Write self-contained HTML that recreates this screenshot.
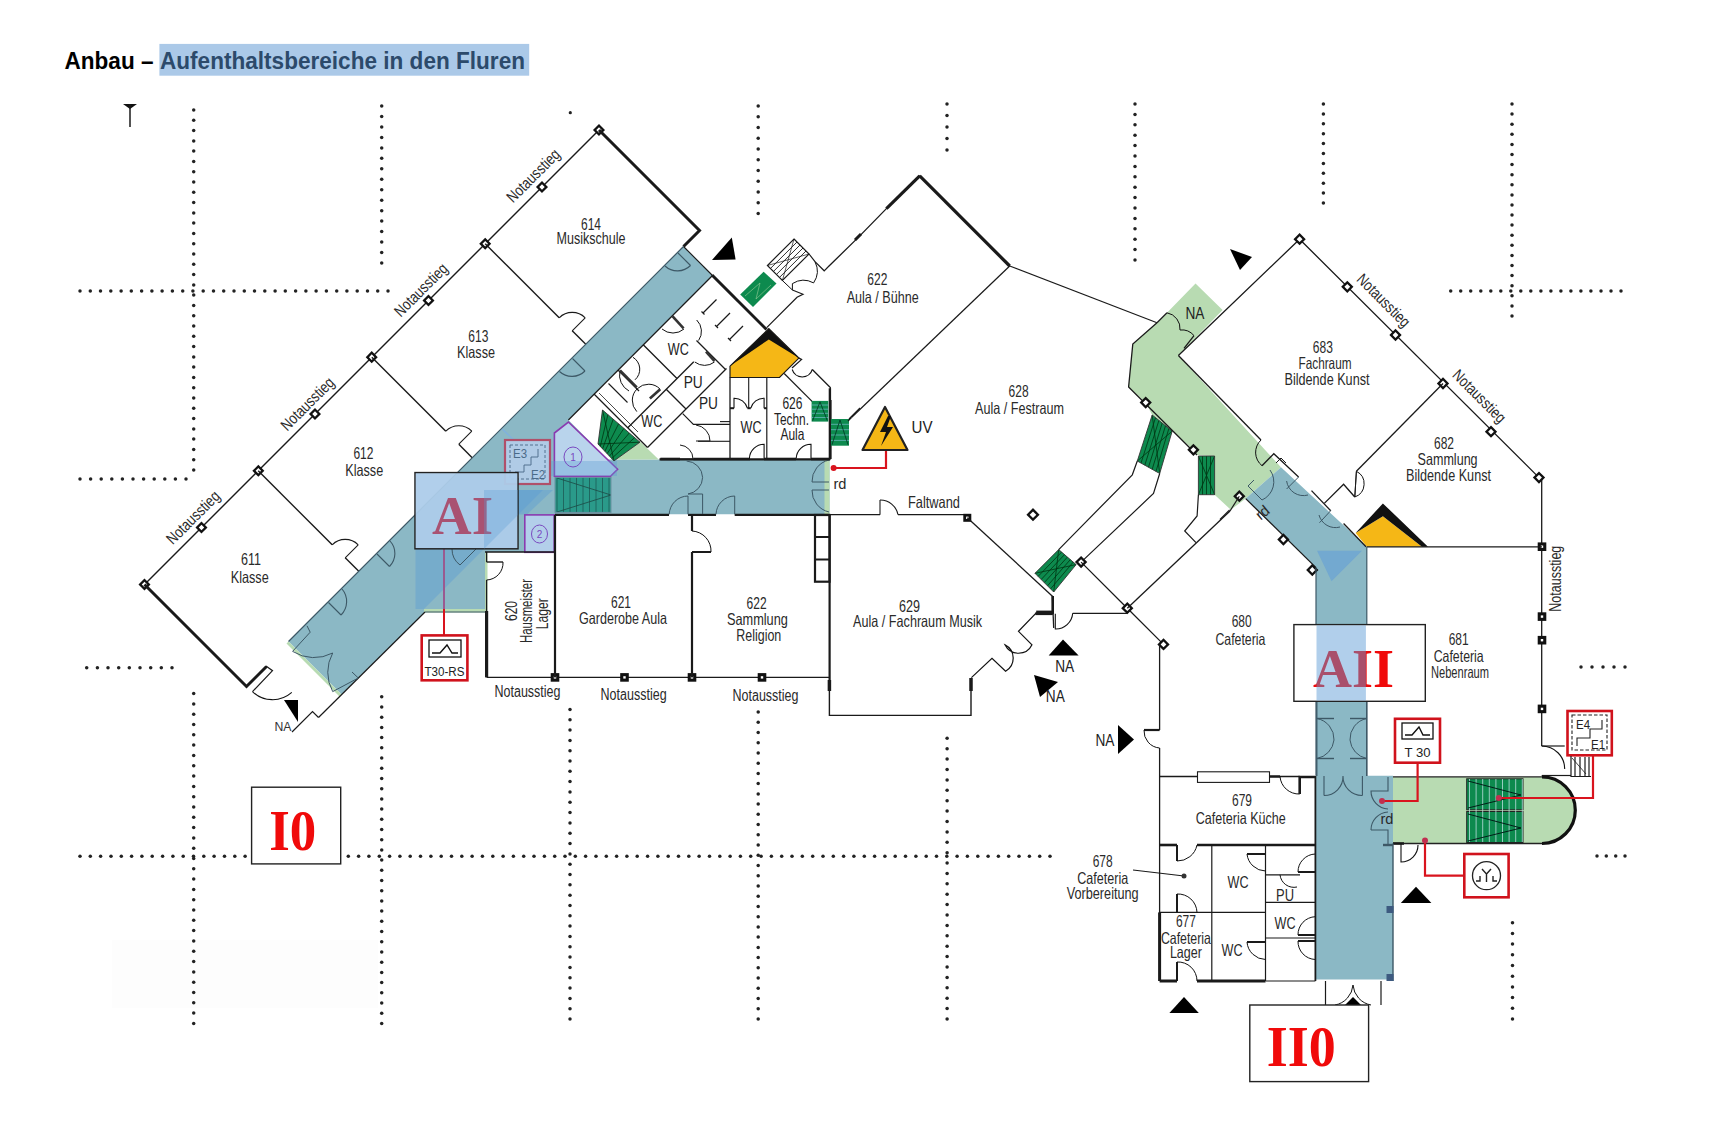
<!DOCTYPE html><html><head><meta charset="utf-8"><style>html,body{margin:0;padding:0;background:#fff;width:1727px;height:1122px;overflow:hidden}svg{display:block}</style></head><body><svg width="1727" height="1122" viewBox="0 0 1727 1122">
<rect width="1727" height="1122" fill="#fff"/>
<rect x="159.4" y="43.9" width="369.8" height="31.8" fill="#abc9e8" stroke="none" stroke-width="1" />
<text x="64.5" y="68.5" font-family="Liberation Sans" font-size="23" font-weight="bold" text-anchor="start" fill="#000" textLength="89" lengthAdjust="spacingAndGlyphs" >Anbau –</text>
<text x="160.0" y="68.5" font-family="Liberation Sans" font-size="23" font-weight="bold" text-anchor="start" fill="#2c4a6b" textLength="365" lengthAdjust="spacingAndGlyphs" >Aufenthaltsbereiche in den Fluren</text>
<rect x="112.0" y="940.0" width="266.0" height="68.0" fill="#fdfdfd" stroke="none" stroke-width="1" />
<circle cx="193.7" cy="110.0" r="1.75" fill="#222"/>
<circle cx="193.7" cy="120.3" r="1.75" fill="#222"/>
<circle cx="193.7" cy="130.6" r="1.75" fill="#222"/>
<circle cx="193.7" cy="140.9" r="1.75" fill="#222"/>
<circle cx="193.7" cy="151.1" r="1.75" fill="#222"/>
<circle cx="193.7" cy="161.4" r="1.75" fill="#222"/>
<circle cx="193.7" cy="171.7" r="1.75" fill="#222"/>
<circle cx="193.7" cy="182.0" r="1.75" fill="#222"/>
<circle cx="193.7" cy="192.3" r="1.75" fill="#222"/>
<circle cx="193.7" cy="202.6" r="1.75" fill="#222"/>
<circle cx="193.7" cy="212.9" r="1.75" fill="#222"/>
<circle cx="193.7" cy="223.1" r="1.75" fill="#222"/>
<circle cx="193.7" cy="233.4" r="1.75" fill="#222"/>
<circle cx="193.7" cy="243.7" r="1.75" fill="#222"/>
<circle cx="193.7" cy="254.0" r="1.75" fill="#222"/>
<circle cx="193.7" cy="264.3" r="1.75" fill="#222"/>
<circle cx="193.7" cy="274.6" r="1.75" fill="#222"/>
<circle cx="193.7" cy="284.9" r="1.75" fill="#222"/>
<circle cx="193.7" cy="295.1" r="1.75" fill="#222"/>
<circle cx="193.7" cy="305.4" r="1.75" fill="#222"/>
<circle cx="193.7" cy="315.7" r="1.75" fill="#222"/>
<circle cx="193.7" cy="326.0" r="1.75" fill="#222"/>
<circle cx="193.7" cy="336.3" r="1.75" fill="#222"/>
<circle cx="193.7" cy="346.6" r="1.75" fill="#222"/>
<circle cx="193.7" cy="356.9" r="1.75" fill="#222"/>
<circle cx="193.7" cy="367.1" r="1.75" fill="#222"/>
<circle cx="193.7" cy="377.4" r="1.75" fill="#222"/>
<circle cx="193.7" cy="387.7" r="1.75" fill="#222"/>
<circle cx="193.7" cy="398.0" r="1.75" fill="#222"/>
<circle cx="193.7" cy="408.3" r="1.75" fill="#222"/>
<circle cx="193.7" cy="418.6" r="1.75" fill="#222"/>
<circle cx="193.7" cy="428.9" r="1.75" fill="#222"/>
<circle cx="193.7" cy="439.1" r="1.75" fill="#222"/>
<circle cx="193.7" cy="449.4" r="1.75" fill="#222"/>
<circle cx="193.7" cy="459.7" r="1.75" fill="#222"/>
<circle cx="193.7" cy="470.0" r="1.75" fill="#222"/>
<circle cx="381.7" cy="106.0" r="1.75" fill="#222"/>
<circle cx="381.7" cy="116.5" r="1.75" fill="#222"/>
<circle cx="381.7" cy="126.9" r="1.75" fill="#222"/>
<circle cx="381.7" cy="137.4" r="1.75" fill="#222"/>
<circle cx="381.7" cy="147.9" r="1.75" fill="#222"/>
<circle cx="381.7" cy="158.3" r="1.75" fill="#222"/>
<circle cx="381.7" cy="168.8" r="1.75" fill="#222"/>
<circle cx="381.7" cy="179.3" r="1.75" fill="#222"/>
<circle cx="381.7" cy="189.7" r="1.75" fill="#222"/>
<circle cx="381.7" cy="200.2" r="1.75" fill="#222"/>
<circle cx="381.7" cy="210.7" r="1.75" fill="#222"/>
<circle cx="381.7" cy="221.1" r="1.75" fill="#222"/>
<circle cx="381.7" cy="231.6" r="1.75" fill="#222"/>
<circle cx="381.7" cy="242.1" r="1.75" fill="#222"/>
<circle cx="381.7" cy="252.5" r="1.75" fill="#222"/>
<circle cx="381.7" cy="263.0" r="1.75" fill="#222"/>
<circle cx="80.0" cy="291.0" r="1.75" fill="#222"/>
<circle cx="90.3" cy="291.0" r="1.75" fill="#222"/>
<circle cx="100.5" cy="291.0" r="1.75" fill="#222"/>
<circle cx="110.8" cy="291.0" r="1.75" fill="#222"/>
<circle cx="121.1" cy="291.0" r="1.75" fill="#222"/>
<circle cx="131.3" cy="291.0" r="1.75" fill="#222"/>
<circle cx="141.6" cy="291.0" r="1.75" fill="#222"/>
<circle cx="151.9" cy="291.0" r="1.75" fill="#222"/>
<circle cx="162.1" cy="291.0" r="1.75" fill="#222"/>
<circle cx="172.4" cy="291.0" r="1.75" fill="#222"/>
<circle cx="182.7" cy="291.0" r="1.75" fill="#222"/>
<circle cx="192.9" cy="291.0" r="1.75" fill="#222"/>
<circle cx="203.2" cy="291.0" r="1.75" fill="#222"/>
<circle cx="213.5" cy="291.0" r="1.75" fill="#222"/>
<circle cx="223.7" cy="291.0" r="1.75" fill="#222"/>
<circle cx="234.0" cy="291.0" r="1.75" fill="#222"/>
<circle cx="244.3" cy="291.0" r="1.75" fill="#222"/>
<circle cx="254.5" cy="291.0" r="1.75" fill="#222"/>
<circle cx="264.8" cy="291.0" r="1.75" fill="#222"/>
<circle cx="275.1" cy="291.0" r="1.75" fill="#222"/>
<circle cx="285.3" cy="291.0" r="1.75" fill="#222"/>
<circle cx="295.6" cy="291.0" r="1.75" fill="#222"/>
<circle cx="305.9" cy="291.0" r="1.75" fill="#222"/>
<circle cx="316.1" cy="291.0" r="1.75" fill="#222"/>
<circle cx="326.4" cy="291.0" r="1.75" fill="#222"/>
<circle cx="336.7" cy="291.0" r="1.75" fill="#222"/>
<circle cx="346.9" cy="291.0" r="1.75" fill="#222"/>
<circle cx="357.2" cy="291.0" r="1.75" fill="#222"/>
<circle cx="367.5" cy="291.0" r="1.75" fill="#222"/>
<circle cx="377.7" cy="291.0" r="1.75" fill="#222"/>
<circle cx="388.0" cy="291.0" r="1.75" fill="#222"/>
<circle cx="80.0" cy="479.0" r="1.75" fill="#222"/>
<circle cx="90.6" cy="479.0" r="1.75" fill="#222"/>
<circle cx="101.2" cy="479.0" r="1.75" fill="#222"/>
<circle cx="111.8" cy="479.0" r="1.75" fill="#222"/>
<circle cx="122.4" cy="479.0" r="1.75" fill="#222"/>
<circle cx="133.0" cy="479.0" r="1.75" fill="#222"/>
<circle cx="143.6" cy="479.0" r="1.75" fill="#222"/>
<circle cx="154.2" cy="479.0" r="1.75" fill="#222"/>
<circle cx="164.8" cy="479.0" r="1.75" fill="#222"/>
<circle cx="175.4" cy="479.0" r="1.75" fill="#222"/>
<circle cx="186.0" cy="479.0" r="1.75" fill="#222"/>
<circle cx="570.3" cy="112.7" r="1.6" fill="#222"/>
<circle cx="758.2" cy="106.0" r="1.75" fill="#222"/>
<circle cx="758.2" cy="116.8" r="1.75" fill="#222"/>
<circle cx="758.2" cy="127.5" r="1.75" fill="#222"/>
<circle cx="758.2" cy="138.2" r="1.75" fill="#222"/>
<circle cx="758.2" cy="149.0" r="1.75" fill="#222"/>
<circle cx="758.2" cy="159.8" r="1.75" fill="#222"/>
<circle cx="758.2" cy="170.5" r="1.75" fill="#222"/>
<circle cx="758.2" cy="181.2" r="1.75" fill="#222"/>
<circle cx="758.2" cy="192.0" r="1.75" fill="#222"/>
<circle cx="758.2" cy="202.8" r="1.75" fill="#222"/>
<circle cx="758.2" cy="213.5" r="1.75" fill="#222"/>
<circle cx="947.0" cy="104.0" r="1.75" fill="#222"/>
<circle cx="947.0" cy="115.5" r="1.75" fill="#222"/>
<circle cx="947.0" cy="127.0" r="1.75" fill="#222"/>
<circle cx="947.0" cy="138.5" r="1.75" fill="#222"/>
<circle cx="947.0" cy="150.0" r="1.75" fill="#222"/>
<circle cx="1135.0" cy="104.0" r="1.75" fill="#222"/>
<circle cx="1135.0" cy="114.4" r="1.75" fill="#222"/>
<circle cx="1135.0" cy="124.8" r="1.75" fill="#222"/>
<circle cx="1135.0" cy="135.2" r="1.75" fill="#222"/>
<circle cx="1135.0" cy="145.6" r="1.75" fill="#222"/>
<circle cx="1135.0" cy="156.0" r="1.75" fill="#222"/>
<circle cx="1135.0" cy="166.4" r="1.75" fill="#222"/>
<circle cx="1135.0" cy="176.8" r="1.75" fill="#222"/>
<circle cx="1135.0" cy="187.2" r="1.75" fill="#222"/>
<circle cx="1135.0" cy="197.6" r="1.75" fill="#222"/>
<circle cx="1135.0" cy="208.0" r="1.75" fill="#222"/>
<circle cx="1135.0" cy="218.4" r="1.75" fill="#222"/>
<circle cx="1135.0" cy="228.8" r="1.75" fill="#222"/>
<circle cx="1135.0" cy="239.2" r="1.75" fill="#222"/>
<circle cx="1135.0" cy="249.6" r="1.75" fill="#222"/>
<circle cx="1135.0" cy="260.0" r="1.75" fill="#222"/>
<circle cx="1323.4" cy="104.0" r="1.75" fill="#222"/>
<circle cx="1323.4" cy="113.9" r="1.75" fill="#222"/>
<circle cx="1323.4" cy="123.8" r="1.75" fill="#222"/>
<circle cx="1323.4" cy="133.7" r="1.75" fill="#222"/>
<circle cx="1323.4" cy="143.6" r="1.75" fill="#222"/>
<circle cx="1323.4" cy="153.5" r="1.75" fill="#222"/>
<circle cx="1323.4" cy="163.4" r="1.75" fill="#222"/>
<circle cx="1323.4" cy="173.3" r="1.75" fill="#222"/>
<circle cx="1323.4" cy="183.2" r="1.75" fill="#222"/>
<circle cx="1323.4" cy="193.1" r="1.75" fill="#222"/>
<circle cx="1323.4" cy="203.0" r="1.75" fill="#222"/>
<circle cx="1512.0" cy="104.0" r="1.75" fill="#222"/>
<circle cx="1512.0" cy="114.1" r="1.75" fill="#222"/>
<circle cx="1512.0" cy="124.2" r="1.75" fill="#222"/>
<circle cx="1512.0" cy="134.3" r="1.75" fill="#222"/>
<circle cx="1512.0" cy="144.4" r="1.75" fill="#222"/>
<circle cx="1512.0" cy="154.5" r="1.75" fill="#222"/>
<circle cx="1512.0" cy="164.6" r="1.75" fill="#222"/>
<circle cx="1512.0" cy="174.7" r="1.75" fill="#222"/>
<circle cx="1512.0" cy="184.8" r="1.75" fill="#222"/>
<circle cx="1512.0" cy="194.9" r="1.75" fill="#222"/>
<circle cx="1512.0" cy="205.0" r="1.75" fill="#222"/>
<circle cx="1512.0" cy="215.0" r="1.75" fill="#222"/>
<circle cx="1512.0" cy="225.1" r="1.75" fill="#222"/>
<circle cx="1512.0" cy="235.2" r="1.75" fill="#222"/>
<circle cx="1512.0" cy="245.3" r="1.75" fill="#222"/>
<circle cx="1512.0" cy="255.4" r="1.75" fill="#222"/>
<circle cx="1512.0" cy="265.5" r="1.75" fill="#222"/>
<circle cx="1512.0" cy="275.6" r="1.75" fill="#222"/>
<circle cx="1512.0" cy="285.7" r="1.75" fill="#222"/>
<circle cx="1512.0" cy="295.8" r="1.75" fill="#222"/>
<circle cx="1512.0" cy="305.9" r="1.75" fill="#222"/>
<circle cx="1512.0" cy="316.0" r="1.75" fill="#222"/>
<circle cx="1450.7" cy="291.0" r="1.75" fill="#222"/>
<circle cx="1460.7" cy="291.0" r="1.75" fill="#222"/>
<circle cx="1470.7" cy="291.0" r="1.75" fill="#222"/>
<circle cx="1480.8" cy="291.0" r="1.75" fill="#222"/>
<circle cx="1490.8" cy="291.0" r="1.75" fill="#222"/>
<circle cx="1500.8" cy="291.0" r="1.75" fill="#222"/>
<circle cx="1510.8" cy="291.0" r="1.75" fill="#222"/>
<circle cx="1520.8" cy="291.0" r="1.75" fill="#222"/>
<circle cx="1530.8" cy="291.0" r="1.75" fill="#222"/>
<circle cx="1540.9" cy="291.0" r="1.75" fill="#222"/>
<circle cx="1550.9" cy="291.0" r="1.75" fill="#222"/>
<circle cx="1560.9" cy="291.0" r="1.75" fill="#222"/>
<circle cx="1570.9" cy="291.0" r="1.75" fill="#222"/>
<circle cx="1580.9" cy="291.0" r="1.75" fill="#222"/>
<circle cx="1590.9" cy="291.0" r="1.75" fill="#222"/>
<circle cx="1601.0" cy="291.0" r="1.75" fill="#222"/>
<circle cx="1611.0" cy="291.0" r="1.75" fill="#222"/>
<circle cx="1621.0" cy="291.0" r="1.75" fill="#222"/>
<circle cx="86.7" cy="667.8" r="1.75" fill="#222"/>
<circle cx="97.4" cy="667.8" r="1.75" fill="#222"/>
<circle cx="108.0" cy="667.8" r="1.75" fill="#222"/>
<circle cx="118.7" cy="667.8" r="1.75" fill="#222"/>
<circle cx="129.3" cy="667.8" r="1.75" fill="#222"/>
<circle cx="140.0" cy="667.8" r="1.75" fill="#222"/>
<circle cx="150.7" cy="667.8" r="1.75" fill="#222"/>
<circle cx="161.3" cy="667.8" r="1.75" fill="#222"/>
<circle cx="172.0" cy="667.8" r="1.75" fill="#222"/>
<circle cx="1581.0" cy="667.0" r="1.75" fill="#222"/>
<circle cx="1592.0" cy="667.0" r="1.75" fill="#222"/>
<circle cx="1603.0" cy="667.0" r="1.75" fill="#222"/>
<circle cx="1614.0" cy="667.0" r="1.75" fill="#222"/>
<circle cx="1625.0" cy="667.0" r="1.75" fill="#222"/>
<circle cx="80.0" cy="856.2" r="1.75" fill="#222"/>
<circle cx="90.3" cy="856.2" r="1.75" fill="#222"/>
<circle cx="100.6" cy="856.2" r="1.75" fill="#222"/>
<circle cx="111.0" cy="856.2" r="1.75" fill="#222"/>
<circle cx="121.3" cy="856.2" r="1.75" fill="#222"/>
<circle cx="131.6" cy="856.2" r="1.75" fill="#222"/>
<circle cx="141.9" cy="856.2" r="1.75" fill="#222"/>
<circle cx="152.2" cy="856.2" r="1.75" fill="#222"/>
<circle cx="162.6" cy="856.2" r="1.75" fill="#222"/>
<circle cx="172.9" cy="856.2" r="1.75" fill="#222"/>
<circle cx="183.2" cy="856.2" r="1.75" fill="#222"/>
<circle cx="193.5" cy="856.2" r="1.75" fill="#222"/>
<circle cx="203.8" cy="856.2" r="1.75" fill="#222"/>
<circle cx="214.1" cy="856.2" r="1.75" fill="#222"/>
<circle cx="224.5" cy="856.2" r="1.75" fill="#222"/>
<circle cx="234.8" cy="856.2" r="1.75" fill="#222"/>
<circle cx="245.1" cy="856.2" r="1.75" fill="#222"/>
<circle cx="255.4" cy="856.2" r="1.75" fill="#222"/>
<circle cx="265.7" cy="856.2" r="1.75" fill="#222"/>
<circle cx="276.1" cy="856.2" r="1.75" fill="#222"/>
<circle cx="286.4" cy="856.2" r="1.75" fill="#222"/>
<circle cx="296.7" cy="856.2" r="1.75" fill="#222"/>
<circle cx="307.0" cy="856.2" r="1.75" fill="#222"/>
<circle cx="317.3" cy="856.2" r="1.75" fill="#222"/>
<circle cx="327.7" cy="856.2" r="1.75" fill="#222"/>
<circle cx="338.0" cy="856.2" r="1.75" fill="#222"/>
<circle cx="348.3" cy="856.2" r="1.75" fill="#222"/>
<circle cx="358.6" cy="856.2" r="1.75" fill="#222"/>
<circle cx="368.9" cy="856.2" r="1.75" fill="#222"/>
<circle cx="379.3" cy="856.2" r="1.75" fill="#222"/>
<circle cx="389.6" cy="856.2" r="1.75" fill="#222"/>
<circle cx="399.9" cy="856.2" r="1.75" fill="#222"/>
<circle cx="410.2" cy="856.2" r="1.75" fill="#222"/>
<circle cx="420.5" cy="856.2" r="1.75" fill="#222"/>
<circle cx="430.9" cy="856.2" r="1.75" fill="#222"/>
<circle cx="441.2" cy="856.2" r="1.75" fill="#222"/>
<circle cx="451.5" cy="856.2" r="1.75" fill="#222"/>
<circle cx="461.8" cy="856.2" r="1.75" fill="#222"/>
<circle cx="472.1" cy="856.2" r="1.75" fill="#222"/>
<circle cx="482.4" cy="856.2" r="1.75" fill="#222"/>
<circle cx="492.8" cy="856.2" r="1.75" fill="#222"/>
<circle cx="503.1" cy="856.2" r="1.75" fill="#222"/>
<circle cx="513.4" cy="856.2" r="1.75" fill="#222"/>
<circle cx="523.7" cy="856.2" r="1.75" fill="#222"/>
<circle cx="534.0" cy="856.2" r="1.75" fill="#222"/>
<circle cx="544.4" cy="856.2" r="1.75" fill="#222"/>
<circle cx="554.7" cy="856.2" r="1.75" fill="#222"/>
<circle cx="565.0" cy="856.2" r="1.75" fill="#222"/>
<circle cx="575.3" cy="856.2" r="1.75" fill="#222"/>
<circle cx="585.6" cy="856.2" r="1.75" fill="#222"/>
<circle cx="596.0" cy="856.2" r="1.75" fill="#222"/>
<circle cx="606.3" cy="856.2" r="1.75" fill="#222"/>
<circle cx="616.6" cy="856.2" r="1.75" fill="#222"/>
<circle cx="626.9" cy="856.2" r="1.75" fill="#222"/>
<circle cx="637.2" cy="856.2" r="1.75" fill="#222"/>
<circle cx="647.6" cy="856.2" r="1.75" fill="#222"/>
<circle cx="657.9" cy="856.2" r="1.75" fill="#222"/>
<circle cx="668.2" cy="856.2" r="1.75" fill="#222"/>
<circle cx="678.5" cy="856.2" r="1.75" fill="#222"/>
<circle cx="688.8" cy="856.2" r="1.75" fill="#222"/>
<circle cx="699.1" cy="856.2" r="1.75" fill="#222"/>
<circle cx="709.5" cy="856.2" r="1.75" fill="#222"/>
<circle cx="719.8" cy="856.2" r="1.75" fill="#222"/>
<circle cx="730.1" cy="856.2" r="1.75" fill="#222"/>
<circle cx="740.4" cy="856.2" r="1.75" fill="#222"/>
<circle cx="750.7" cy="856.2" r="1.75" fill="#222"/>
<circle cx="761.1" cy="856.2" r="1.75" fill="#222"/>
<circle cx="771.4" cy="856.2" r="1.75" fill="#222"/>
<circle cx="781.7" cy="856.2" r="1.75" fill="#222"/>
<circle cx="792.0" cy="856.2" r="1.75" fill="#222"/>
<circle cx="802.3" cy="856.2" r="1.75" fill="#222"/>
<circle cx="812.7" cy="856.2" r="1.75" fill="#222"/>
<circle cx="823.0" cy="856.2" r="1.75" fill="#222"/>
<circle cx="833.3" cy="856.2" r="1.75" fill="#222"/>
<circle cx="843.6" cy="856.2" r="1.75" fill="#222"/>
<circle cx="853.9" cy="856.2" r="1.75" fill="#222"/>
<circle cx="864.3" cy="856.2" r="1.75" fill="#222"/>
<circle cx="874.6" cy="856.2" r="1.75" fill="#222"/>
<circle cx="884.9" cy="856.2" r="1.75" fill="#222"/>
<circle cx="895.2" cy="856.2" r="1.75" fill="#222"/>
<circle cx="905.5" cy="856.2" r="1.75" fill="#222"/>
<circle cx="915.9" cy="856.2" r="1.75" fill="#222"/>
<circle cx="926.2" cy="856.2" r="1.75" fill="#222"/>
<circle cx="936.5" cy="856.2" r="1.75" fill="#222"/>
<circle cx="946.8" cy="856.2" r="1.75" fill="#222"/>
<circle cx="957.1" cy="856.2" r="1.75" fill="#222"/>
<circle cx="967.4" cy="856.2" r="1.75" fill="#222"/>
<circle cx="977.8" cy="856.2" r="1.75" fill="#222"/>
<circle cx="988.1" cy="856.2" r="1.75" fill="#222"/>
<circle cx="998.4" cy="856.2" r="1.75" fill="#222"/>
<circle cx="1008.7" cy="856.2" r="1.75" fill="#222"/>
<circle cx="1019.0" cy="856.2" r="1.75" fill="#222"/>
<circle cx="1029.4" cy="856.2" r="1.75" fill="#222"/>
<circle cx="1039.7" cy="856.2" r="1.75" fill="#222"/>
<circle cx="1050.0" cy="856.2" r="1.75" fill="#222"/>
<circle cx="1597.0" cy="856.0" r="1.75" fill="#222"/>
<circle cx="1606.3" cy="856.0" r="1.75" fill="#222"/>
<circle cx="1615.7" cy="856.0" r="1.75" fill="#222"/>
<circle cx="1625.0" cy="856.0" r="1.75" fill="#222"/>
<circle cx="193.7" cy="693.6" r="1.75" fill="#222"/>
<circle cx="193.7" cy="703.9" r="1.75" fill="#222"/>
<circle cx="193.7" cy="714.2" r="1.75" fill="#222"/>
<circle cx="193.7" cy="724.5" r="1.75" fill="#222"/>
<circle cx="193.7" cy="734.8" r="1.75" fill="#222"/>
<circle cx="193.7" cy="745.1" r="1.75" fill="#222"/>
<circle cx="193.7" cy="755.4" r="1.75" fill="#222"/>
<circle cx="193.7" cy="765.7" r="1.75" fill="#222"/>
<circle cx="193.7" cy="776.0" r="1.75" fill="#222"/>
<circle cx="193.7" cy="786.4" r="1.75" fill="#222"/>
<circle cx="193.7" cy="796.7" r="1.75" fill="#222"/>
<circle cx="193.7" cy="807.0" r="1.75" fill="#222"/>
<circle cx="193.7" cy="817.3" r="1.75" fill="#222"/>
<circle cx="193.7" cy="827.6" r="1.75" fill="#222"/>
<circle cx="193.7" cy="837.9" r="1.75" fill="#222"/>
<circle cx="193.7" cy="848.2" r="1.75" fill="#222"/>
<circle cx="193.7" cy="858.5" r="1.75" fill="#222"/>
<circle cx="193.7" cy="868.8" r="1.75" fill="#222"/>
<circle cx="193.7" cy="879.1" r="1.75" fill="#222"/>
<circle cx="193.7" cy="889.4" r="1.75" fill="#222"/>
<circle cx="193.7" cy="899.7" r="1.75" fill="#222"/>
<circle cx="193.7" cy="910.0" r="1.75" fill="#222"/>
<circle cx="193.7" cy="920.3" r="1.75" fill="#222"/>
<circle cx="193.7" cy="930.6" r="1.75" fill="#222"/>
<circle cx="193.7" cy="941.0" r="1.75" fill="#222"/>
<circle cx="193.7" cy="951.3" r="1.75" fill="#222"/>
<circle cx="193.7" cy="961.6" r="1.75" fill="#222"/>
<circle cx="193.7" cy="971.9" r="1.75" fill="#222"/>
<circle cx="193.7" cy="982.2" r="1.75" fill="#222"/>
<circle cx="193.7" cy="992.5" r="1.75" fill="#222"/>
<circle cx="193.7" cy="1002.8" r="1.75" fill="#222"/>
<circle cx="193.7" cy="1013.1" r="1.75" fill="#222"/>
<circle cx="193.7" cy="1023.4" r="1.75" fill="#222"/>
<circle cx="381.7" cy="696.8" r="1.75" fill="#222"/>
<circle cx="381.7" cy="707.0" r="1.75" fill="#222"/>
<circle cx="381.7" cy="717.2" r="1.75" fill="#222"/>
<circle cx="381.7" cy="727.4" r="1.75" fill="#222"/>
<circle cx="381.7" cy="737.6" r="1.75" fill="#222"/>
<circle cx="381.7" cy="747.8" r="1.75" fill="#222"/>
<circle cx="381.7" cy="758.0" r="1.75" fill="#222"/>
<circle cx="381.7" cy="768.2" r="1.75" fill="#222"/>
<circle cx="381.7" cy="778.4" r="1.75" fill="#222"/>
<circle cx="381.7" cy="788.7" r="1.75" fill="#222"/>
<circle cx="381.7" cy="798.9" r="1.75" fill="#222"/>
<circle cx="381.7" cy="809.1" r="1.75" fill="#222"/>
<circle cx="381.7" cy="819.3" r="1.75" fill="#222"/>
<circle cx="381.7" cy="829.5" r="1.75" fill="#222"/>
<circle cx="381.7" cy="839.7" r="1.75" fill="#222"/>
<circle cx="381.7" cy="849.9" r="1.75" fill="#222"/>
<circle cx="381.7" cy="860.1" r="1.75" fill="#222"/>
<circle cx="381.7" cy="870.3" r="1.75" fill="#222"/>
<circle cx="381.7" cy="880.5" r="1.75" fill="#222"/>
<circle cx="381.7" cy="890.7" r="1.75" fill="#222"/>
<circle cx="381.7" cy="900.9" r="1.75" fill="#222"/>
<circle cx="381.7" cy="911.1" r="1.75" fill="#222"/>
<circle cx="381.7" cy="921.3" r="1.75" fill="#222"/>
<circle cx="381.7" cy="931.5" r="1.75" fill="#222"/>
<circle cx="381.7" cy="941.8" r="1.75" fill="#222"/>
<circle cx="381.7" cy="952.0" r="1.75" fill="#222"/>
<circle cx="381.7" cy="962.2" r="1.75" fill="#222"/>
<circle cx="381.7" cy="972.4" r="1.75" fill="#222"/>
<circle cx="381.7" cy="982.6" r="1.75" fill="#222"/>
<circle cx="381.7" cy="992.8" r="1.75" fill="#222"/>
<circle cx="381.7" cy="1003.0" r="1.75" fill="#222"/>
<circle cx="381.7" cy="1013.2" r="1.75" fill="#222"/>
<circle cx="381.7" cy="1023.4" r="1.75" fill="#222"/>
<circle cx="570.0" cy="709.4" r="1.75" fill="#222"/>
<circle cx="570.0" cy="719.7" r="1.75" fill="#222"/>
<circle cx="570.0" cy="730.0" r="1.75" fill="#222"/>
<circle cx="570.0" cy="740.4" r="1.75" fill="#222"/>
<circle cx="570.0" cy="750.7" r="1.75" fill="#222"/>
<circle cx="570.0" cy="761.0" r="1.75" fill="#222"/>
<circle cx="570.0" cy="771.3" r="1.75" fill="#222"/>
<circle cx="570.0" cy="781.6" r="1.75" fill="#222"/>
<circle cx="570.0" cy="792.0" r="1.75" fill="#222"/>
<circle cx="570.0" cy="802.3" r="1.75" fill="#222"/>
<circle cx="570.0" cy="812.6" r="1.75" fill="#222"/>
<circle cx="570.0" cy="822.9" r="1.75" fill="#222"/>
<circle cx="570.0" cy="833.2" r="1.75" fill="#222"/>
<circle cx="570.0" cy="843.6" r="1.75" fill="#222"/>
<circle cx="570.0" cy="853.9" r="1.75" fill="#222"/>
<circle cx="570.0" cy="864.2" r="1.75" fill="#222"/>
<circle cx="570.0" cy="874.5" r="1.75" fill="#222"/>
<circle cx="570.0" cy="884.8" r="1.75" fill="#222"/>
<circle cx="570.0" cy="895.2" r="1.75" fill="#222"/>
<circle cx="570.0" cy="905.5" r="1.75" fill="#222"/>
<circle cx="570.0" cy="915.8" r="1.75" fill="#222"/>
<circle cx="570.0" cy="926.1" r="1.75" fill="#222"/>
<circle cx="570.0" cy="936.4" r="1.75" fill="#222"/>
<circle cx="570.0" cy="946.8" r="1.75" fill="#222"/>
<circle cx="570.0" cy="957.1" r="1.75" fill="#222"/>
<circle cx="570.0" cy="967.4" r="1.75" fill="#222"/>
<circle cx="570.0" cy="977.7" r="1.75" fill="#222"/>
<circle cx="570.0" cy="988.0" r="1.75" fill="#222"/>
<circle cx="570.0" cy="998.4" r="1.75" fill="#222"/>
<circle cx="570.0" cy="1008.7" r="1.75" fill="#222"/>
<circle cx="570.0" cy="1019.0" r="1.75" fill="#222"/>
<circle cx="758.2" cy="712.0" r="1.75" fill="#222"/>
<circle cx="758.2" cy="722.2" r="1.75" fill="#222"/>
<circle cx="758.2" cy="732.5" r="1.75" fill="#222"/>
<circle cx="758.2" cy="742.7" r="1.75" fill="#222"/>
<circle cx="758.2" cy="752.9" r="1.75" fill="#222"/>
<circle cx="758.2" cy="763.2" r="1.75" fill="#222"/>
<circle cx="758.2" cy="773.4" r="1.75" fill="#222"/>
<circle cx="758.2" cy="783.6" r="1.75" fill="#222"/>
<circle cx="758.2" cy="793.9" r="1.75" fill="#222"/>
<circle cx="758.2" cy="804.1" r="1.75" fill="#222"/>
<circle cx="758.2" cy="814.3" r="1.75" fill="#222"/>
<circle cx="758.2" cy="824.6" r="1.75" fill="#222"/>
<circle cx="758.2" cy="834.8" r="1.75" fill="#222"/>
<circle cx="758.2" cy="845.0" r="1.75" fill="#222"/>
<circle cx="758.2" cy="855.3" r="1.75" fill="#222"/>
<circle cx="758.2" cy="865.5" r="1.75" fill="#222"/>
<circle cx="758.2" cy="875.7" r="1.75" fill="#222"/>
<circle cx="758.2" cy="886.0" r="1.75" fill="#222"/>
<circle cx="758.2" cy="896.2" r="1.75" fill="#222"/>
<circle cx="758.2" cy="906.4" r="1.75" fill="#222"/>
<circle cx="758.2" cy="916.7" r="1.75" fill="#222"/>
<circle cx="758.2" cy="926.9" r="1.75" fill="#222"/>
<circle cx="758.2" cy="937.1" r="1.75" fill="#222"/>
<circle cx="758.2" cy="947.4" r="1.75" fill="#222"/>
<circle cx="758.2" cy="957.6" r="1.75" fill="#222"/>
<circle cx="758.2" cy="967.8" r="1.75" fill="#222"/>
<circle cx="758.2" cy="978.1" r="1.75" fill="#222"/>
<circle cx="758.2" cy="988.3" r="1.75" fill="#222"/>
<circle cx="758.2" cy="998.5" r="1.75" fill="#222"/>
<circle cx="758.2" cy="1008.8" r="1.75" fill="#222"/>
<circle cx="758.2" cy="1019.0" r="1.75" fill="#222"/>
<circle cx="947.1" cy="738.3" r="1.75" fill="#222"/>
<circle cx="947.1" cy="748.7" r="1.75" fill="#222"/>
<circle cx="947.1" cy="759.1" r="1.75" fill="#222"/>
<circle cx="947.1" cy="769.5" r="1.75" fill="#222"/>
<circle cx="947.1" cy="779.9" r="1.75" fill="#222"/>
<circle cx="947.1" cy="790.3" r="1.75" fill="#222"/>
<circle cx="947.1" cy="800.7" r="1.75" fill="#222"/>
<circle cx="947.1" cy="811.1" r="1.75" fill="#222"/>
<circle cx="947.1" cy="821.5" r="1.75" fill="#222"/>
<circle cx="947.1" cy="831.9" r="1.75" fill="#222"/>
<circle cx="947.1" cy="842.3" r="1.75" fill="#222"/>
<circle cx="947.1" cy="852.7" r="1.75" fill="#222"/>
<circle cx="947.1" cy="863.1" r="1.75" fill="#222"/>
<circle cx="947.1" cy="873.5" r="1.75" fill="#222"/>
<circle cx="947.1" cy="883.8" r="1.75" fill="#222"/>
<circle cx="947.1" cy="894.2" r="1.75" fill="#222"/>
<circle cx="947.1" cy="904.6" r="1.75" fill="#222"/>
<circle cx="947.1" cy="915.0" r="1.75" fill="#222"/>
<circle cx="947.1" cy="925.4" r="1.75" fill="#222"/>
<circle cx="947.1" cy="935.8" r="1.75" fill="#222"/>
<circle cx="947.1" cy="946.2" r="1.75" fill="#222"/>
<circle cx="947.1" cy="956.6" r="1.75" fill="#222"/>
<circle cx="947.1" cy="967.0" r="1.75" fill="#222"/>
<circle cx="947.1" cy="977.4" r="1.75" fill="#222"/>
<circle cx="947.1" cy="987.8" r="1.75" fill="#222"/>
<circle cx="947.1" cy="998.2" r="1.75" fill="#222"/>
<circle cx="947.1" cy="1008.6" r="1.75" fill="#222"/>
<circle cx="947.1" cy="1019.0" r="1.75" fill="#222"/>
<circle cx="1512.5" cy="922.7" r="1.75" fill="#222"/>
<circle cx="1512.5" cy="933.4" r="1.75" fill="#222"/>
<circle cx="1512.5" cy="944.1" r="1.75" fill="#222"/>
<circle cx="1512.5" cy="954.8" r="1.75" fill="#222"/>
<circle cx="1512.5" cy="965.5" r="1.75" fill="#222"/>
<circle cx="1512.5" cy="976.2" r="1.75" fill="#222"/>
<circle cx="1512.5" cy="986.9" r="1.75" fill="#222"/>
<circle cx="1512.5" cy="997.6" r="1.75" fill="#222"/>
<circle cx="1512.5" cy="1008.3" r="1.75" fill="#222"/>
<circle cx="1512.5" cy="1019.0" r="1.75" fill="#222"/>
<path d="M123,104 L137,104 L130,109 Z" fill="#111"/>
<line x1="130.0" y1="104.0" x2="130.0" y2="127.0" stroke="#1a1a1a" stroke-width="1.5" />
<polygon points="683.5,246.5 712.5,275.5 568.4,420.0 608.0,459.4 829.5,459.4 829.5,514.3 555.0,514.3 555.0,552.0 485.0,552.0 485.0,612.0 425.0,612.0 341.5,694.5 288.5,641.5" fill="#8bb8c5" fill-opacity="1.0" />
<polygon points="288.5,641.5 341.5,694.5 339.5,696.5 286.5,643.5" fill="#b8dbb2" fill-opacity="1.0" />
<rect x="485.0" y="552.0" width="2.5" height="60.0" fill="#b8dbb2" stroke="none" stroke-width="1" />
<rect x="824.5" y="459.4" width="5.0" height="55.0" fill="#b8dbb2" stroke="none" stroke-width="1" />
<polygon points="640.6,442.0 658.7,459.4 616.6,459.4" fill="#b8dbb2" fill-opacity="1.0" />
<polygon points="554.4,433.0 568.4,422.0 617.6,469.2 610.5,476.2 554.4,476.2" fill="#b9d4ec" fill-opacity="1.0" />
<polygon points="554.4,433.0 568.4,422.0 617.6,469.2 610.5,476.2 554.4,476.2" fill="none" stroke="#8a3ab0" stroke-width="1.6" stroke-linejoin="miter" />
<rect x="555.0" y="477.4" width="56.0" height="35.0" fill="#2a9a8a" stroke="none" stroke-width="1" />
<line x1="557.0" y1="477.4" x2="557.0" y2="512.2" stroke="#1d5a55" stroke-width="0.8" />
<line x1="563.5" y1="477.4" x2="563.5" y2="512.2" stroke="#1d5a55" stroke-width="0.8" />
<line x1="570.0" y1="477.4" x2="570.0" y2="512.2" stroke="#1d5a55" stroke-width="0.8" />
<line x1="576.5" y1="477.4" x2="576.5" y2="512.2" stroke="#1d5a55" stroke-width="0.8" />
<line x1="583.0" y1="477.4" x2="583.0" y2="512.2" stroke="#1d5a55" stroke-width="0.8" />
<line x1="589.5" y1="477.4" x2="589.5" y2="512.2" stroke="#1d5a55" stroke-width="0.8" />
<line x1="596.0" y1="477.4" x2="596.0" y2="512.2" stroke="#1d5a55" stroke-width="0.8" />
<line x1="602.5" y1="477.4" x2="602.5" y2="512.2" stroke="#1d5a55" stroke-width="0.8" />
<line x1="609.0" y1="477.4" x2="609.0" y2="512.2" stroke="#1d5a55" stroke-width="0.8" />
<polyline points="557.0,478.0 611.0,495.0 557.0,512.0" fill="none" stroke="#1d4a45" stroke-width="0.8" stroke-linejoin="miter" />
<rect x="555.0" y="477.4" width="56.0" height="35.0" fill="none" stroke="#6a8fa0" stroke-width="1" />
<rect x="424.0" y="609.0" width="61.0" height="3.5" fill="#b8dbb2" stroke="none" stroke-width="1" />
<polygon points="484.0,549.0 543.0,490.0 484.0,490.0" fill="#5b9bd5" fill-opacity="0.42" />
<polygon points="518.0,490.0 553.0,490.0 527.0,514.5 518.0,514.5" fill="#5b9bd5" fill-opacity="0.42" />
<polygon points="415.5,549.0 484.0,549.0 424.0,609.0 415.5,609.0" fill="#5b9bd5" fill-opacity="0.42" />
<path d="M452,549 A20,20 0 0 0 460,565 L476,549" fill="none" stroke="#3d5866" stroke-width="1"/>
<polygon points="518.0,461.0 617.0,461.0 617.0,476.0 518.0,476.0" fill="#5b9bd5" fill-opacity="0.35" />
<line x1="502.4" y1="429.3" x2="540.7" y2="465.0" stroke="#7fb0e0" stroke-width="1.2" />
<rect x="524.8" y="514.9" width="29.4" height="37.4" fill="#b3cfea" stroke="#8a3ab0" stroke-width="1.6" />
<ellipse cx="539.5" cy="534" rx="8" ry="9" fill="none" stroke="#7a4ac0" stroke-width="1"/>
<text x="539.5" y="538.0" font-family="Liberation Sans" font-size="10" font-weight="normal" text-anchor="middle" fill="#7a4ac0" >2</text>
<ellipse cx="573" cy="457" rx="9" ry="10" fill="none" stroke="#7a4ac0" stroke-width="1"/>
<text x="573.0" y="461.0" font-family="Liberation Sans" font-size="10" font-weight="normal" text-anchor="middle" fill="#7a4ac0" >1</text>
<rect x="505.0" y="440.0" width="45.0" height="44.0" fill="#b0cbe6" stroke="#b0506a" stroke-width="2.2" />
<rect x="510.0" y="445.0" width="35.0" height="34.0" fill="none" stroke="#4a6a88" stroke-width="0.9" stroke-dasharray="3,2"/>
<polyline points="515.0,472.0 524.0,472.0 524.0,465.0 531.0,465.0 531.0,457.0 538.0,457.0 538.0,449.0" fill="none" stroke="#4a6a88" stroke-width="0.9" stroke-linejoin="miter" />
<text x="520.0" y="458.0" font-family="Liberation Sans" font-size="13" font-weight="normal" text-anchor="middle" fill="#4a6a88" textLength="14" lengthAdjust="spacingAndGlyphs" >E3</text>
<text x="538.0" y="479.0" font-family="Liberation Sans" font-size="13" font-weight="normal" text-anchor="middle" fill="#4a6a88" textLength="14" lengthAdjust="spacingAndGlyphs" >E2</text>
<line x1="144.5" y1="584.5" x2="599.0" y2="130.0" stroke="#1a1a1a" stroke-width="1.4" />
<rect x="198.4" y="524.4" width="6.2" height="6.2" fill="#fff" stroke="#111" stroke-width="2.3" transform="rotate(45 201.5 527.5)"/>
<rect x="311.9" y="410.9" width="6.2" height="6.2" fill="#fff" stroke="#111" stroke-width="2.3" transform="rotate(45 315.0 414.0)"/>
<rect x="425.4" y="297.4" width="6.2" height="6.2" fill="#fff" stroke="#111" stroke-width="2.3" transform="rotate(45 428.5 300.5)"/>
<rect x="538.9" y="183.9" width="6.2" height="6.2" fill="#fff" stroke="#111" stroke-width="2.3" transform="rotate(45 542.0 187.0)"/>
<rect x="141.4" y="581.4" width="6.2" height="6.2" fill="#fff" stroke="#111" stroke-width="2.3" transform="rotate(45 144.5 584.5)"/>
<rect x="255.2" y="467.6" width="6.2" height="6.2" fill="#fff" stroke="#111" stroke-width="2.3" transform="rotate(45 258.2 470.8)"/>
<rect x="368.6" y="354.1" width="6.2" height="6.2" fill="#fff" stroke="#111" stroke-width="2.3" transform="rotate(45 371.8 357.2)"/>
<rect x="482.1" y="240.7" width="6.2" height="6.2" fill="#fff" stroke="#111" stroke-width="2.3" transform="rotate(45 485.2 243.8)"/>
<rect x="595.9" y="126.9" width="6.2" height="6.2" fill="#fff" stroke="#111" stroke-width="2.3" transform="rotate(45 599.0 130.0)"/>
<polyline points="599.0,130.0 699.5,230.5 683.5,246.5" fill="none" stroke="#1a1a1a" stroke-width="3" stroke-linejoin="miter" />
<line x1="683.5" y1="246.5" x2="712.0" y2="275.0" stroke="#1a1a1a" stroke-width="1.1" />
<line x1="712.0" y1="275.0" x2="766.5" y2="329.5" stroke="#1a1a1a" stroke-width="3" />
<polyline points="144.5,584.5 246.5,686.5 266.5,666.5" fill="none" stroke="#1a1a1a" stroke-width="3" stroke-linejoin="miter" />
<line x1="258.2" y1="470.8" x2="332.2" y2="544.8" stroke="#1a1a1a" stroke-width="1.4" />
<line x1="345.2" y1="557.8" x2="358.8" y2="571.2" stroke="#1a1a1a" stroke-width="1.4" />
<line x1="345.2" y1="557.8" x2="358.2" y2="544.8" stroke="#1a1a1a" stroke-width="1.1" />
<path d="M358.2,544.8 A18.4,18.4 0 0 0 332.2,544.8" fill="none" stroke="#1a1a1a" stroke-width="1.1"/>
<line x1="371.8" y1="357.2" x2="445.8" y2="431.2" stroke="#1a1a1a" stroke-width="1.4" />
<line x1="458.8" y1="444.2" x2="472.2" y2="457.8" stroke="#1a1a1a" stroke-width="1.4" />
<line x1="458.8" y1="444.2" x2="471.8" y2="431.2" stroke="#1a1a1a" stroke-width="1.1" />
<path d="M471.8,431.2 A18.4,18.4 0 0 0 445.8,431.2" fill="none" stroke="#1a1a1a" stroke-width="1.1"/>
<line x1="485.2" y1="243.8" x2="559.2" y2="317.8" stroke="#1a1a1a" stroke-width="1.4" />
<line x1="572.2" y1="330.8" x2="585.8" y2="344.2" stroke="#1a1a1a" stroke-width="1.4" />
<line x1="572.2" y1="330.8" x2="585.2" y2="317.8" stroke="#1a1a1a" stroke-width="1.1" />
<path d="M585.2,317.8 A18.4,18.4 0 0 0 559.2,317.8" fill="none" stroke="#1a1a1a" stroke-width="1.1"/>
<line x1="683.5" y1="246.5" x2="288.5" y2="641.5" stroke="#3d5866" stroke-width="1.2" />
<line x1="712.5" y1="275.5" x2="568.4" y2="420.0" stroke="#1a1a1a" stroke-width="1.2" />
<line x1="678.0" y1="253.0" x2="690.5" y2="265.5" stroke="#3d5866" stroke-width="1.1" />
<path d="M690.5,265.5 A18.4,18.4 0 0 1 665.0,266.0" fill="none" stroke="#3d5866" stroke-width="1.1"/>
<line x1="572.5" y1="358.5" x2="585.0" y2="371.0" stroke="#3d5866" stroke-width="1.1" />
<path d="M585.0,371.0 A18.4,18.4 0 0 1 559.5,371.5" fill="none" stroke="#3d5866" stroke-width="1.1"/>
<line x1="377.0" y1="554.0" x2="389.5" y2="566.5" stroke="#3d5866" stroke-width="1.1" />
<path d="M389.5,566.5 A18.4,18.4 0 0 0 390.0,541.0" fill="none" stroke="#3d5866" stroke-width="1.1"/>
<line x1="328.5" y1="602.5" x2="341.0" y2="615.0" stroke="#3d5866" stroke-width="1.1" />
<path d="M341.0,615.0 A19.1,19.1 0 0 0 342.0,589.0" fill="none" stroke="#3d5866" stroke-width="1.1"/>
<line x1="425.0" y1="612.0" x2="318.5" y2="717.5" stroke="#1a1a1a" stroke-width="1.2" />
<polyline points="318.5,717.5 312.5,711.5 292.0,732.0" fill="none" stroke="#1a1a1a" stroke-width="1.2" stroke-linejoin="miter" />
<line x1="425.0" y1="612.0" x2="485.0" y2="612.0" stroke="#3d5866" stroke-width="1.2" />
<polyline points="266.0,666.0 272.5,670.7 252.5,691.6" fill="none" stroke="#1a1a1a" stroke-width="1.2" stroke-linejoin="miter" />
<path d="M252.5,691.6 A29,29 0 0 0 291.8,692.4" fill="none" stroke="#111" stroke-width="1.1"/>
<path d="M307,625.8 L310.2,632.2 L292.6,651.4 A40,40 0 0 0 332.7,653 A40,40 0 0 0 332.7,691.6 L358.3,678 L352,672" fill="none" stroke="#3d5866" stroke-width="1"/>
<polygon points="284.0,700.0 298.0,700.0 298.0,722.0" fill="#000" fill-opacity="1.0" />
<text x="283.0" y="731.0" font-family="Liberation Sans" font-size="12" font-weight="normal" text-anchor="middle" fill="#333" textLength="17" lengthAdjust="spacingAndGlyphs" >NA</text>
<line x1="486.6" y1="677.4" x2="829.6" y2="677.4" stroke="#1a1a1a" stroke-width="1.4" />
<rect x="550.7" y="673.1" width="8.6" height="8.6" fill="#111"/>
<rect x="553.8" y="676.2" width="2.4" height="2.4" fill="#fff"/>
<rect x="620.2" y="673.1" width="8.6" height="8.6" fill="#111"/>
<rect x="623.3" y="676.2" width="2.4" height="2.4" fill="#fff"/>
<rect x="687.7" y="673.1" width="8.6" height="8.6" fill="#111"/>
<rect x="690.8" y="676.2" width="2.4" height="2.4" fill="#fff"/>
<rect x="757.7" y="673.1" width="8.6" height="8.6" fill="#111"/>
<rect x="760.8" y="676.2" width="2.4" height="2.4" fill="#fff"/>
<line x1="486.6" y1="552.0" x2="486.6" y2="562.0" stroke="#1a1a1a" stroke-width="1.3" />
<line x1="486.6" y1="580.0" x2="486.6" y2="611.0" stroke="#1a1a1a" stroke-width="1.3" />
<line x1="486.6" y1="611.0" x2="486.6" y2="677.4" stroke="#1a1a1a" stroke-width="3.2" />
<line x1="485.0" y1="552.0" x2="555.0" y2="552.0" stroke="#1a1a1a" stroke-width="1.3" />
<line x1="486.6" y1="562.0" x2="503.0" y2="562.0" stroke="#1a1a1a" stroke-width="1.4" />
<path d="M503,562 A17,17 0 0 1 486.6,580" fill="none" stroke="#111" stroke-width="1"/>
<line x1="555.0" y1="514.9" x2="555.0" y2="677.4" stroke="#1a1a1a" stroke-width="2.2" />
<line x1="692.0" y1="514.9" x2="692.0" y2="531.0" stroke="#1a1a1a" stroke-width="2.2" />
<line x1="692.0" y1="552.0" x2="692.0" y2="677.4" stroke="#1a1a1a" stroke-width="2.2" />
<path d="M692,531 A20,20 0 0 1 711,552" fill="none" stroke="#111" stroke-width="1"/>
<line x1="692.0" y1="552.0" x2="711.0" y2="552.0" stroke="#1a1a1a" stroke-width="2" />
<line x1="829.6" y1="514.9" x2="829.6" y2="690.0" stroke="#1a1a1a" stroke-width="2.2" />
<line x1="555.0" y1="514.9" x2="669.0" y2="514.9" stroke="#1a1a1a" stroke-width="2.2" />
<line x1="734.7" y1="514.9" x2="829.6" y2="514.9" stroke="#1a1a1a" stroke-width="2.2" />
<line x1="688.0" y1="514.9" x2="716.0" y2="514.9" stroke="#1a1a1a" stroke-width="2.2" />
<rect x="815.0" y="515.0" width="14.6" height="66.7" fill="none" stroke="#1a1a1a" stroke-width="2.2" />
<line x1="815.0" y1="537.0" x2="829.6" y2="537.0" stroke="#1a1a1a" stroke-width="2" />
<line x1="815.0" y1="559.5" x2="829.6" y2="559.5" stroke="#1a1a1a" stroke-width="2" />
<polyline points="829.4,690.0 829.4,715.4 971.0,715.4 971.0,678.0" fill="none" stroke="#1a1a1a" stroke-width="1.4" stroke-linejoin="miter" />
<line x1="829.4" y1="680.0" x2="829.4" y2="691.0" stroke="#1a1a1a" stroke-width="3.5" />
<line x1="971.0" y1="678.0" x2="971.0" y2="691.0" stroke="#1a1a1a" stroke-width="3.5" />
<path d="M971.4,677.6 L992,658.4 L1005.6,671.2 A15,15 0 0 0 1005,644.8 A15,15 0 0 0 1032,644.8 L1018.5,631.3 L1036.3,612.8 L1052.7,613.8 L1052.7,597.8" fill="none" stroke="#111" stroke-width="1.2"/>
<line x1="1052.7" y1="613.8" x2="1052.7" y2="596.0" stroke="#1a1a1a" stroke-width="2.6" />
<line x1="1035.3" y1="613.8" x2="1052.7" y2="613.8" stroke="#1a1a1a" stroke-width="2.6" />
<line x1="829.6" y1="514.7" x2="880.0" y2="514.7" stroke="#1a1a1a" stroke-width="1.3" />
<line x1="898.0" y1="514.7" x2="967.0" y2="514.7" stroke="#1a1a1a" stroke-width="1.3" />
<line x1="880.0" y1="514.7" x2="880.0" y2="500.0" stroke="#1a1a1a" stroke-width="1.1" />
<path d="M880.0,500.0 A18.0,18.0 0 0 1 898.0,514.7" fill="none" stroke="#1a1a1a" stroke-width="1.1"/>
<rect x="963.3" y="513.8" width="8.0" height="8.0" fill="#111"/>
<rect x="966.1" y="516.6" width="2.4" height="2.4" fill="#fff"/>
<line x1="967.3" y1="517.8" x2="1052.7" y2="596.4" stroke="#1a1a1a" stroke-width="1.3" />
<rect x="1029.5" y="511.2" width="7.0" height="7.0" fill="#fff" stroke="#111" stroke-width="2.3" transform="rotate(45 1033.0 514.7)"/>
<line x1="659.5" y1="459.4" x2="829.9" y2="459.4" stroke="#1a1a1a" stroke-width="2.4" />
<line x1="829.9" y1="388.3" x2="829.9" y2="459.4" stroke="#1a1a1a" stroke-width="2.4" />
<path d="M669.2,514.3 A19,19 0 0 1 688,496 L688,514.3" fill="none" stroke="#3d5866" stroke-width="1"/>
<path d="M716,514.3 A19,19 0 0 1 734.7,496 L734.7,514.3" fill="none" stroke="#3d5866" stroke-width="1"/>
<path d="M686.6,461 A17,17 0 0 1 702.6,477.4 A17,17 0 0 1 688,494 M688,494 L702.6,494 L702.6,514" fill="none" stroke="#3d5866" stroke-width="1"/>
<path d="M829,460 A22,22 0 0 0 812,482 L829,482 M829,512 A22,22 0 0 1 812,490 L829,490" fill="none" stroke="#3d5866" stroke-width="1"/>
<polyline points="886.0,451.0 886.0,468.0 833.6,468.0" fill="none" stroke="#d9141e" stroke-width="2.2" stroke-linejoin="miter" />
<circle cx="833.6" cy="468" r="3" fill="#d9141e"/>
<polygon points="730.0,366.1 768.8,328.7 798.9,358.1 779.5,377.5 730.0,377.5" fill="#f5b716" fill-opacity="1.0" />
<polygon points="730.0,366.1 768.8,328.7 798.9,358.1 768.8,339.4" fill="#111" fill-opacity="1.0" />
<polyline points="730.0,366.1 768.8,328.7 798.9,358.1 779.5,377.5 730.0,377.5 730.0,366.1" fill="none" stroke="#1a1a1a" stroke-width="1.2" stroke-linejoin="miter" />
<line x1="748.7" y1="377.5" x2="748.7" y2="408.0" stroke="#1a1a1a" stroke-width="1.1" />
<line x1="766.8" y1="377.5" x2="766.8" y2="459.0" stroke="#1a1a1a" stroke-width="1.2" />
<line x1="730.0" y1="377.5" x2="730.0" y2="459.0" stroke="#1a1a1a" stroke-width="1.3" />
<line x1="720.0" y1="421.6" x2="730.0" y2="421.6" stroke="#1a1a1a" stroke-width="1.1" />
<line x1="698.0" y1="441.3" x2="730.0" y2="441.3" stroke="#1a1a1a" stroke-width="1.1" />
<polyline points="682.7,413.7 693.4,424.4 730.0,424.4" fill="none" stroke="#1a1a1a" stroke-width="1.2" stroke-linejoin="miter" />
<path d="M734,408.2 L734,398.2 A13.5,13.5 0 0 1 747.4,408.2 M764.1,408.2 L764.1,398.2 A13.5,13.5 0 0 0 750.8,408.2" fill="none" stroke="#111" stroke-width="1.1"/>
<line x1="730.0" y1="408.2" x2="734.0" y2="408.2" stroke="#1a1a1a" stroke-width="2" />
<line x1="747.4" y1="408.2" x2="750.8" y2="408.2" stroke="#1a1a1a" stroke-width="2" />
<line x1="764.1" y1="408.2" x2="766.8" y2="408.2" stroke="#1a1a1a" stroke-width="2" />
<polyline points="798.9,358.1 801.6,359.4 792.0,368.0" fill="none" stroke="#1a1a1a" stroke-width="1.2" stroke-linejoin="miter" />
<path d="M792.2,369.5 A10.5,10.5 0 0 0 812.3,369.5" fill="none" stroke="#111" stroke-width="1.1"/>
<polyline points="812.3,369.5 830.3,387.5 830.3,459.0" fill="none" stroke="#1a1a1a" stroke-width="1.3" stroke-linejoin="miter" />
<line x1="830.3" y1="400.0" x2="830.3" y2="459.0" stroke="#1a1a1a" stroke-width="2.6" />
<line x1="784.2" y1="373.5" x2="812.3" y2="401.6" stroke="#1a1a1a" stroke-width="1.2" />
<line x1="849.0" y1="419.0" x2="860.0" y2="408.0" stroke="#1a1a1a" stroke-width="1.2" />
<line x1="594.0" y1="394.0" x2="647.5" y2="447.5" stroke="#1a1a1a" stroke-width="1.3" />
<line x1="599.0" y1="393.0" x2="638.0" y2="432.0" stroke="#1a1a1a" stroke-width="0.8" />
<line x1="647.5" y1="447.5" x2="726.5" y2="368.5" stroke="#1a1a1a" stroke-width="1.3" />
<line x1="696.5" y1="340.5" x2="725.5" y2="369.5" stroke="#1a1a1a" stroke-width="1.3" />
<line x1="643.2" y1="344.8" x2="677.0" y2="378.5" stroke="#1a1a1a" stroke-width="1.3" />
<line x1="627.8" y1="427.8" x2="693.8" y2="361.8" stroke="#1a1a1a" stroke-width="1.3" />
<line x1="666.2" y1="389.2" x2="686.0" y2="409.0" stroke="#1a1a1a" stroke-width="1.3" />
<line x1="618.0" y1="370.0" x2="639.0" y2="391.0" stroke="#1a1a1a" stroke-width="1.3" />
<line x1="608.5" y1="383.5" x2="627.5" y2="402.5" stroke="#1a1a1a" stroke-width="1.1" />
<line x1="703.0" y1="313.0" x2="716.5" y2="299.5" stroke="#1a1a1a" stroke-width="1.2" />
<line x1="701.5" y1="311.5" x2="704.5" y2="314.5" stroke="#1a1a1a" stroke-width="1.2" />
<line x1="716.5" y1="326.5" x2="730.0" y2="313.0" stroke="#1a1a1a" stroke-width="1.2" />
<line x1="715.0" y1="325.0" x2="718.0" y2="328.0" stroke="#1a1a1a" stroke-width="1.2" />
<line x1="729.5" y1="339.5" x2="743.0" y2="326.0" stroke="#1a1a1a" stroke-width="1.2" />
<line x1="728.0" y1="338.0" x2="731.0" y2="341.0" stroke="#1a1a1a" stroke-width="1.2" />
<path d="M662,329 A17,17 0 0 0 684,329" fill="none" stroke="#111" stroke-width="1"/>
<path d="M696.7,320 A16,16 0 0 1 698.6,340.5" fill="none" stroke="#111" stroke-width="1"/>
<path d="M694.8,362 A16,16 0 0 0 714.5,362" fill="none" stroke="#111" stroke-width="1"/>
<path d="M636.8,411.6 A16,16 0 0 1 660.2,389.2" fill="none" stroke="#111" stroke-width="1"/>
<path d="M633,357.3 A14,14 0 0 1 635,379.8" fill="none" stroke="#111" stroke-width="1"/>
<path d="M620,371 A18,18 0 0 0 629,391" fill="none" stroke="#111" stroke-width="1"/>
<line x1="672.4" y1="316.2" x2="683.6" y2="328.3" stroke="#333" stroke-width="2.6" />
<line x1="706.0" y1="351.7" x2="714.5" y2="361.0" stroke="#333" stroke-width="2.6" />
<line x1="649.9" y1="398.5" x2="660.2" y2="389.2" stroke="#333" stroke-width="2.6" />
<line x1="620.0" y1="370.4" x2="636.8" y2="387.3" stroke="#333" stroke-width="2.6" />
<line x1="660.4" y1="459.0" x2="680.0" y2="459.0" stroke="#1a1a1a" stroke-width="2.6" />
<line x1="693.4" y1="459.0" x2="730.0" y2="459.0" stroke="#1a1a1a" stroke-width="2.6" />
<line x1="730.0" y1="459.0" x2="750.0" y2="459.0" stroke="#1a1a1a" stroke-width="2.6" />
<line x1="764.0" y1="459.0" x2="796.0" y2="459.0" stroke="#1a1a1a" stroke-width="2.6" />
<line x1="811.0" y1="459.0" x2="830.3" y2="459.0" stroke="#1a1a1a" stroke-width="2.6" />
<line x1="680.0" y1="459.0" x2="693.0" y2="459.0" stroke="#1a1a1a" stroke-width="1" />
<path d="M693.0,459.0 A14.0,14.0 0 0 0 680.0,445.0" fill="none" stroke="#1a1a1a" stroke-width="1"/>
<line x1="696.0" y1="441.0" x2="710.0" y2="441.0" stroke="#1a1a1a" stroke-width="1" />
<path d="M710.0,441.0 A16.0,16.0 0 0 0 696.0,425.0" fill="none" stroke="#1a1a1a" stroke-width="1"/>
<path d="M749.4,458.4 A14.7,14.7 0 0 1 764.1,444.3 L764.1,458.4 M796.2,458.4 A14.7,14.7 0 0 1 811,444.3 L811,458.4" fill="none" stroke="#111" stroke-width="1.1"/>
<rect x="811.6" y="400.9" width="16.7" height="20.7" fill="#0d8a4e" stroke="none" stroke-width="1" />
<rect x="831.0" y="419.0" width="18.0" height="26.7" fill="#0d8a4e" stroke="none" stroke-width="1" />
<line x1="811.6" y1="405.0" x2="828.3" y2="405.0" stroke="#7bc" stroke-width="0.7" />
<line x1="811.6" y1="409.2" x2="828.3" y2="409.2" stroke="#7bc" stroke-width="0.7" />
<line x1="811.6" y1="413.3" x2="828.3" y2="413.3" stroke="#7bc" stroke-width="0.7" />
<line x1="811.6" y1="417.5" x2="828.3" y2="417.5" stroke="#7bc" stroke-width="0.7" />
<polyline points="812.6,420.6 820.0,401.9 827.3,420.6" fill="none" stroke="#032" stroke-width="0.8" stroke-linejoin="miter" />
<line x1="831.0" y1="424.3" x2="849.0" y2="424.3" stroke="#7bc" stroke-width="0.7" />
<line x1="831.0" y1="429.7" x2="849.0" y2="429.7" stroke="#7bc" stroke-width="0.7" />
<line x1="831.0" y1="435.0" x2="849.0" y2="435.0" stroke="#7bc" stroke-width="0.7" />
<line x1="831.0" y1="440.4" x2="849.0" y2="440.4" stroke="#7bc" stroke-width="0.7" />
<polyline points="832.0,444.7 840.0,420.0 848.0,444.7" fill="none" stroke="#032" stroke-width="0.8" stroke-linejoin="miter" />
<text x="678.3" y="354.5" font-family="Liberation Sans" font-size="16.5" font-weight="normal" text-anchor="middle" fill="#222" textLength="21" lengthAdjust="spacingAndGlyphs" >WC</text>
<text x="693.2" y="388.0" font-family="Liberation Sans" font-size="16.5" font-weight="normal" text-anchor="middle" fill="#222" textLength="19" lengthAdjust="spacingAndGlyphs" >PU</text>
<text x="708.5" y="409.0" font-family="Liberation Sans" font-size="16.5" font-weight="normal" text-anchor="middle" fill="#222" textLength="19" lengthAdjust="spacingAndGlyphs" >PU</text>
<text x="651.8" y="426.5" font-family="Liberation Sans" font-size="16.5" font-weight="normal" text-anchor="middle" fill="#222" textLength="21" lengthAdjust="spacingAndGlyphs" >WC</text>
<text x="751.0" y="433.0" font-family="Liberation Sans" font-size="16.5" font-weight="normal" text-anchor="middle" fill="#222" textLength="21" lengthAdjust="spacingAndGlyphs" >WC</text>
<text x="792.4" y="408.5" font-family="Liberation Sans" font-size="16.5" font-weight="normal" text-anchor="middle" fill="#222" textLength="20" lengthAdjust="spacingAndGlyphs" >626</text>
<text x="791.5" y="424.5" font-family="Liberation Sans" font-size="16.5" font-weight="normal" text-anchor="middle" fill="#222" textLength="35" lengthAdjust="spacingAndGlyphs" >Techn.</text>
<text x="792.4" y="439.5" font-family="Liberation Sans" font-size="16.5" font-weight="normal" text-anchor="middle" fill="#222" textLength="24" lengthAdjust="spacingAndGlyphs" >Aula</text>
<polyline points="828.0,267.0 858.3,237.4 886.4,208.6 919.7,175.8 1009.7,266.0" fill="none" stroke="#1a1a1a" stroke-width="1.3" stroke-linejoin="miter" />
<line x1="886.4" y1="208.6" x2="919.7" y2="175.8" stroke="#1a1a1a" stroke-width="3.2" />
<line x1="919.7" y1="175.8" x2="1009.7" y2="266.0" stroke="#1a1a1a" stroke-width="3.2" />
<line x1="855.0" y1="240.0" x2="861.0" y2="234.0" stroke="#1a1a1a" stroke-width="3" />
<line x1="1009.7" y1="266.0" x2="851.5" y2="417.5" stroke="#1a1a1a" stroke-width="1.2" />
<line x1="851.5" y1="417.5" x2="848.0" y2="421.0" stroke="#1a1a1a" stroke-width="1.2" />
<line x1="1009.7" y1="266.0" x2="1157.0" y2="322.8" stroke="#1a1a1a" stroke-width="1.2" />
<polygon points="794.0,239.0 809.0,254.0 782.4,280.5 767.4,265.5" fill="none" stroke="#1a1a1a" stroke-width="1.2" stroke-linejoin="miter" />
<line x1="770.4" y1="268.5" x2="797.0" y2="242.0" stroke="#1a1a1a" stroke-width="0.9" />
<line x1="773.4" y1="271.5" x2="800.0" y2="245.0" stroke="#1a1a1a" stroke-width="0.9" />
<line x1="776.4" y1="274.5" x2="803.0" y2="248.0" stroke="#1a1a1a" stroke-width="0.9" />
<line x1="779.4" y1="277.5" x2="806.0" y2="251.0" stroke="#1a1a1a" stroke-width="0.9" />
<line x1="794.0" y1="239.0" x2="782.4" y2="280.5" stroke="#1a1a1a" stroke-width="0.7" />
<line x1="767.4" y1="265.5" x2="809.0" y2="254.0" stroke="#1a1a1a" stroke-width="0.7" />
<polyline points="809.0,254.0 815.0,261.7 824.2,270.8 828.0,267.0" fill="none" stroke="#1a1a1a" stroke-width="1.2" stroke-linejoin="miter" />
<path d="M815,261.7 A21,21 0 0 1 813.6,282.9 M792.4,283.6 A21,21 0 0 1 813.6,282.9 M782.4,280.5 L792.4,290 L792.4,283.6" fill="none" stroke="#111" stroke-width="1"/>
<polyline points="792.4,290.0 803.0,294.2 797.0,297.3 766.7,327.6" fill="none" stroke="#1a1a1a" stroke-width="1.2" stroke-linejoin="miter" />
<polygon points="763.6,271.8 776.5,283.6 753.0,307.0 740.2,294.5" fill="#0d8a4e" fill-opacity="1.0" />
<polyline points="745.0,296.0 760.0,283.0 756.0,299.0 771.0,285.0" fill="none" stroke="#9c9" stroke-width="0.6" stroke-linejoin="miter" />
<polygon points="712.0,260.0 731.8,237.4 735.6,259.4" fill="#000" fill-opacity="1.0" />
<polygon points="885.0,407.0 907.5,450.0 862.5,450.0" fill="#f5b716" fill-opacity="1.0" stroke="#222" stroke-width="2.2" stroke-linejoin="round"/>
<path d="M888,416 L880,432 L886,432 L881,446 L893,427 L887,427 L891,416 Z" fill="#111"/>
<text x="911.5" y="432.5" font-family="Liberation Sans" font-size="16.5" font-weight="normal" text-anchor="start" fill="#222" textLength="21" lengthAdjust="spacingAndGlyphs" >UV</text>
<polygon points="1195.5,283.4 1222.6,310.0 1178.4,355.5 1281.0,467.3 1245.7,498.6 1230.8,509.7 1214.6,494.7 1214.6,456.0 1197.0,455.0 1193.4,449.8 1172.2,431.1 1152.2,415.0 1145.7,402.6 1128.6,387.0 1132.8,344.0 1157.0,322.8 1167.0,312.8" fill="#b8dbb2" fill-opacity="1.0" />
<polygon points="1281.0,467.3 1366.8,546.8 1366.8,775.7 1393.0,775.7 1393.0,979.6 1316.0,979.6 1316.0,567.6 1245.7,498.6" fill="#8bb8c5" fill-opacity="1.0" />
<path d="M1393,776.9 L1542,776.9 A33.3,33.3 0 0 1 1542,843.5 L1393,843.5 Z" fill="#b8dbb2"/>
<path d="M1393,776.9 L1542,776.9 M1542,843.5 L1393,843.5" fill="none" stroke="#222" stroke-width="1.3"/>
<path d="M1542,776.9 A33.3,33.3 0 0 1 1542,843.5" fill="none" stroke="#111" stroke-width="3.2"/>
<line x1="1393.0" y1="843.5" x2="1404.0" y2="843.5" stroke="#1a1a1a" stroke-width="2.6" />
<rect x="1466.7" y="778.8" width="56.3" height="31.0" fill="#0d8a4e" stroke="#222" stroke-width="1" />
<rect x="1466.7" y="811.5" width="56.3" height="31.0" fill="#0d8a4e" stroke="#222" stroke-width="1" />
<line x1="1469.5" y1="779.0" x2="1469.5" y2="842.0" stroke="#bdd" stroke-width="0.8" />
<line x1="1476.1" y1="779.0" x2="1476.1" y2="842.0" stroke="#bdd" stroke-width="0.8" />
<line x1="1482.7" y1="779.0" x2="1482.7" y2="842.0" stroke="#bdd" stroke-width="0.8" />
<line x1="1489.3" y1="779.0" x2="1489.3" y2="842.0" stroke="#bdd" stroke-width="0.8" />
<line x1="1495.9" y1="779.0" x2="1495.9" y2="842.0" stroke="#bdd" stroke-width="0.8" />
<line x1="1502.5" y1="779.0" x2="1502.5" y2="842.0" stroke="#bdd" stroke-width="0.8" />
<line x1="1509.1" y1="779.0" x2="1509.1" y2="842.0" stroke="#bdd" stroke-width="0.8" />
<line x1="1515.7" y1="779.0" x2="1515.7" y2="842.0" stroke="#bdd" stroke-width="0.8" />
<line x1="1522.3" y1="779.0" x2="1522.3" y2="842.0" stroke="#bdd" stroke-width="0.8" />
<polyline points="1468.0,781.0 1521.0,795.0 1468.0,808.0" fill="none" stroke="#011" stroke-width="0.9" stroke-linejoin="miter" />
<polyline points="1468.0,814.0 1521.0,828.0 1468.0,841.0" fill="none" stroke="#011" stroke-width="0.9" stroke-linejoin="miter" />
<polygon points="1355.6,533.1 1382.9,516.3 1422.0,546.8 1366.8,546.8" fill="#f5b716" fill-opacity="1.0" />
<polygon points="1355.6,533.1 1382.9,503.4 1428.0,546.8 1422.0,546.8 1382.9,516.3" fill="#111" fill-opacity="1.0" />
<polygon points="1317.0,550.8 1362.0,550.8 1331.5,581.3" fill="#6ea6d1" fill-opacity="0.85" />
<polygon points="1152.2,415.0 1172.2,431.1 1159.7,473.5 1137.3,461.0" fill="#0d8a4e" fill-opacity="1.0" />
<line x1="1155.5" y1="417.7" x2="1141.0" y2="463.1" stroke="#031" stroke-width="0.8" />
<line x1="1158.9" y1="420.4" x2="1144.8" y2="465.2" stroke="#031" stroke-width="0.8" />
<line x1="1162.2" y1="423.1" x2="1148.5" y2="467.2" stroke="#031" stroke-width="0.8" />
<line x1="1165.5" y1="425.7" x2="1152.2" y2="469.3" stroke="#031" stroke-width="0.8" />
<line x1="1168.9" y1="428.4" x2="1156.0" y2="471.4" stroke="#031" stroke-width="0.8" />
<line x1="1152.2" y1="415.0" x2="1159.7" y2="473.5" stroke="#031" stroke-width="0.8" />
<line x1="1172.2" y1="431.1" x2="1137.3" y2="461.0" stroke="#031" stroke-width="0.8" />
<polygon points="1152.2,415.0 1172.2,431.1 1159.7,473.5 1137.3,461.0" fill="none" stroke="#333" stroke-width="0.9" stroke-linejoin="miter" />
<polygon points="1198.4,456.0 1214.6,456.0 1214.6,494.7 1198.4,494.7" fill="#0d8a4e" fill-opacity="1.0" />
<line x1="1202.5" y1="456.0" x2="1202.5" y2="494.7" stroke="#031" stroke-width="0.8" />
<line x1="1206.5" y1="456.0" x2="1206.5" y2="494.7" stroke="#031" stroke-width="0.8" />
<line x1="1210.5" y1="456.0" x2="1210.5" y2="494.7" stroke="#031" stroke-width="0.8" />
<line x1="1198.4" y1="456.0" x2="1214.6" y2="494.7" stroke="#031" stroke-width="0.8" />
<line x1="1214.6" y1="456.0" x2="1198.4" y2="494.7" stroke="#031" stroke-width="0.8" />
<polygon points="1198.4,456.0 1214.6,456.0 1214.6,494.7 1198.4,494.7" fill="none" stroke="#333" stroke-width="0.9" stroke-linejoin="miter" />
<polygon points="1058.7,549.6 1076.1,564.6 1053.7,592.0 1035.0,573.3" fill="#0d8a4e" fill-opacity="1.0" />
<line x1="1061.6" y1="552.1" x2="1038.1" y2="576.4" stroke="#031" stroke-width="0.8" />
<line x1="1064.5" y1="554.6" x2="1041.2" y2="579.5" stroke="#031" stroke-width="0.8" />
<line x1="1067.4" y1="557.1" x2="1044.3" y2="582.6" stroke="#031" stroke-width="0.8" />
<line x1="1070.3" y1="559.6" x2="1047.5" y2="585.8" stroke="#031" stroke-width="0.8" />
<line x1="1073.2" y1="562.1" x2="1050.6" y2="588.9" stroke="#031" stroke-width="0.8" />
<line x1="1058.7" y1="549.6" x2="1053.7" y2="592.0" stroke="#031" stroke-width="0.8" />
<line x1="1076.1" y1="564.6" x2="1035.0" y2="573.3" stroke="#031" stroke-width="0.8" />
<polygon points="1058.7,549.6 1076.1,564.6 1053.7,592.0 1035.0,573.3" fill="none" stroke="#333" stroke-width="0.9" stroke-linejoin="miter" />
<polygon points="602.5,410.0 640.0,442.2 614.0,460.9 598.0,444.0" fill="#0d8a4e" fill-opacity="1.0" />
<line x1="607.9" y1="414.6" x2="600.3" y2="446.4" stroke="#031" stroke-width="0.8" />
<line x1="613.2" y1="419.2" x2="602.6" y2="448.8" stroke="#031" stroke-width="0.8" />
<line x1="618.6" y1="423.8" x2="604.9" y2="451.2" stroke="#031" stroke-width="0.8" />
<line x1="623.9" y1="428.4" x2="607.1" y2="453.7" stroke="#031" stroke-width="0.8" />
<line x1="629.3" y1="433.0" x2="609.4" y2="456.1" stroke="#031" stroke-width="0.8" />
<line x1="634.6" y1="437.6" x2="611.7" y2="458.5" stroke="#031" stroke-width="0.8" />
<line x1="602.5" y1="410.0" x2="614.0" y2="460.9" stroke="#031" stroke-width="0.8" />
<line x1="640.0" y1="442.2" x2="598.0" y2="444.0" stroke="#031" stroke-width="0.8" />
<polygon points="602.5,410.0 640.0,442.2 614.0,460.9 598.0,444.0" fill="none" stroke="#333" stroke-width="0.9" stroke-linejoin="miter" />
<polyline points="1178.4,355.5 1299.6,239.2 1539.0,477.6" fill="none" stroke="#1a1a1a" stroke-width="1.3" stroke-linejoin="miter" />
<line x1="1541.7" y1="477.6" x2="1541.7" y2="746.0" stroke="#1a1a1a" stroke-width="1.3" />
<line x1="1541.7" y1="746.0" x2="1564.7" y2="746.0" stroke="#1a1a1a" stroke-width="1.2" />
<path d="M1541.7,746 A23,23 0 0 1 1564.7,769" fill="none" stroke="#111" stroke-width="1.1"/>
<line x1="1541.7" y1="775.5" x2="1571.0" y2="775.5" stroke="#1a1a1a" stroke-width="1.2" />
<rect x="1344.1" y="283.6" width="6.4" height="6.4" fill="#fff" stroke="#111" stroke-width="2.3" transform="rotate(45 1347.3 286.8)"/>
<rect x="1392.3" y="331.8" width="6.4" height="6.4" fill="#fff" stroke="#111" stroke-width="2.3" transform="rotate(45 1395.5 335.0)"/>
<rect x="1439.8" y="380.3" width="6.4" height="6.4" fill="#fff" stroke="#111" stroke-width="2.3" transform="rotate(45 1443.0 383.5)"/>
<rect x="1487.8" y="428.5" width="6.4" height="6.4" fill="#fff" stroke="#111" stroke-width="2.3" transform="rotate(45 1491.0 431.7)"/>
<rect x="1296.4" y="236.0" width="6.4" height="6.4" fill="#fff" stroke="#111" stroke-width="2.3" transform="rotate(45 1299.6 239.2)"/>
<rect x="1535.8" y="474.4" width="6.4" height="6.4" fill="#fff" stroke="#111" stroke-width="2.3" transform="rotate(45 1539.0 477.6)"/>
<rect x="1537.7" y="542.4" width="8.6" height="8.6" fill="#111"/>
<rect x="1540.8" y="545.5" width="2.4" height="2.4" fill="#fff"/>
<rect x="1537.7" y="612.3" width="8.6" height="8.6" fill="#111"/>
<rect x="1540.8" y="615.4" width="2.4" height="2.4" fill="#fff"/>
<rect x="1537.7" y="635.9" width="8.6" height="8.6" fill="#111"/>
<rect x="1540.8" y="639.0" width="2.4" height="2.4" fill="#fff"/>
<rect x="1537.7" y="704.6" width="8.6" height="8.6" fill="#111"/>
<rect x="1540.8" y="707.7" width="2.4" height="2.4" fill="#fff"/>
<polyline points="1178.4,355.5 1261.0,440.0" fill="none" stroke="#1a1a1a" stroke-width="1.3" stroke-linejoin="miter" />
<path d="M1261,440 A17,17 0 0 0 1262,465.7" fill="none" stroke="#111" stroke-width="1"/>
<polyline points="1262.0,465.7 1273.8,453.7 1298.6,477.0" fill="none" stroke="#1a1a1a" stroke-width="1.3" stroke-linejoin="miter" />
<polyline points="1276.0,463.0 1281.0,458.0 1286.0,463.0" fill="none" stroke="#1a1a1a" stroke-width="1" stroke-linejoin="miter" />
<path d="M1298.6,477 L1286.6,489 M1286.6,481 A17,17 0 0 0 1308,495" fill="none" stroke="#3d5866" stroke-width="1"/>
<polyline points="1311.5,490.6 1330.7,510.7" fill="none" stroke="#1a1a1a" stroke-width="1.3" stroke-linejoin="miter" />
<path d="M1330.7,510.7 L1319.5,522.7 M1319,515 A17,17 0 0 0 1340,527" fill="none" stroke="#3d5866" stroke-width="1"/>
<polyline points="1343.6,523.5 1366.0,546.8" fill="none" stroke="#1a1a1a" stroke-width="1.3" stroke-linejoin="miter" />
<path d="M1254,480 L1248,486 L1262,500 M1270,470 A20,20 0 0 1 1262,500" fill="none" stroke="#3d5866" stroke-width="1"/>
<line x1="1366.8" y1="546.8" x2="1542.0" y2="546.8" stroke="#1a1a1a" stroke-width="1.3" />
<polyline points="1443.0,383.5 1356.4,471.3" fill="none" stroke="#1a1a1a" stroke-width="1.3" stroke-linejoin="miter" />
<line x1="1356.4" y1="471.3" x2="1354.8" y2="497.0" stroke="#1a1a1a" stroke-width="1" />
<path d="M1354.8,497.0 A0.0,0.0 0 0 0 1356.4,471.3" fill="none" stroke="#1a1a1a" stroke-width="1"/>
<path d="M1356.4,471.3 A14,14 0 0 1 1354.8,497" fill="none" stroke="#111" stroke-width="1"/>
<polyline points="1354.8,497.0 1343.6,484.2 1324.3,503.4" fill="none" stroke="#1a1a1a" stroke-width="1.3" stroke-linejoin="miter" />
<polyline points="1157.0,322.8 1167.0,312.8" fill="none" stroke="#1a1a1a" stroke-width="1.3" stroke-linejoin="miter" />
<path d="M1167,312.8 A16,16 0 0 1 1180,330 M1194,335.6 A16,16 0 0 0 1180,330" fill="none" stroke="#111" stroke-width="1"/>
<polyline points="1194.0,335.6 1184.0,348.4" fill="none" stroke="#1a1a1a" stroke-width="1.3" stroke-linejoin="miter" />
<polyline points="1157.0,322.8 1132.8,344.0 1128.6,387.0 1197.0,455.0" fill="none" stroke="#1a1a1a" stroke-width="1.3" stroke-linejoin="miter" />
<rect x="1142.5" y="399.4" width="6.4" height="6.4" fill="#fff" stroke="#111" stroke-width="2.3" transform="rotate(45 1145.7 402.6)"/>
<rect x="1190.2" y="446.6" width="6.4" height="6.4" fill="#fff" stroke="#111" stroke-width="2.3" transform="rotate(45 1193.4 449.8)"/>
<rect x="1236.1" y="493.0" width="6.4" height="6.4" fill="#fff" stroke="#111" stroke-width="2.3" transform="rotate(45 1239.3 496.2)"/>
<polyline points="1137.3,461.0 1132.3,474.8 1058.7,549.6" fill="none" stroke="#1a1a1a" stroke-width="1.2" stroke-linejoin="miter" />
<polyline points="1159.7,473.5 1153.5,493.5 1081.1,562.1" fill="none" stroke="#1a1a1a" stroke-width="1.2" stroke-linejoin="miter" />
<rect x="1077.9" y="558.9" width="6.4" height="6.4" fill="#fff" stroke="#111" stroke-width="2.3" transform="rotate(45 1081.1 562.1)"/>
<polyline points="1198.4,494.7 1197.1,516.0 1184.7,531.0 1196.0,542.6" fill="none" stroke="#1a1a1a" stroke-width="1.2" stroke-linejoin="miter" />
<line x1="1230.0" y1="511.0" x2="1239.3" y2="496.2" stroke="#1a1a1a" stroke-width="1.2" />
<polyline points="1081.1,562.1 1127.3,608.2 1163.5,644.4" fill="none" stroke="#1a1a1a" stroke-width="1.3" stroke-linejoin="miter" />
<rect x="1124.1" y="605.0" width="6.4" height="6.4" fill="#fff" stroke="#111" stroke-width="2.3" transform="rotate(45 1127.3 608.2)"/>
<rect x="1160.3" y="641.2" width="6.4" height="6.4" fill="#fff" stroke="#111" stroke-width="2.3" transform="rotate(45 1163.5 644.4)"/>
<line x1="1230.0" y1="511.0" x2="1127.3" y2="608.2" stroke="#1a1a1a" stroke-width="1.3" />
<line x1="1245.7" y1="498.6" x2="1316.0" y2="567.6" stroke="#1a1a1a" stroke-width="1.3" />
<rect x="1280.2" y="536.3" width="6.4" height="6.4" fill="#fff" stroke="#111" stroke-width="2.3" transform="rotate(45 1283.4 539.5)"/>
<rect x="1309.1" y="566.8" width="6.4" height="6.4" fill="#fff" stroke="#111" stroke-width="2.3" transform="rotate(45 1312.3 570.0)"/>
<polyline points="1220.0,519.5 1229.6,509.9" fill="none" stroke="#1a1a1a" stroke-width="1.2" stroke-linejoin="miter" />
<line x1="1316.0" y1="567.6" x2="1316.0" y2="775.7" stroke="#3d5866" stroke-width="1.2" />
<line x1="1366.8" y1="546.8" x2="1366.8" y2="776.0" stroke="#3d5866" stroke-width="1.2" />
<line x1="1072.7" y1="613.3" x2="1127.3" y2="613.3" stroke="#1a1a1a" stroke-width="1.3" />
<path d="M1055.3,613.8 L1055.3,629 A17,17 0 0 0 1072.7,613.3" fill="none" stroke="#111" stroke-width="1.1"/>
<line x1="1052.4" y1="597.0" x2="1053.7" y2="628.0" stroke="#1a1a1a" stroke-width="1.3" />
<line x1="1036.2" y1="612.0" x2="1053.7" y2="612.0" stroke="#1a1a1a" stroke-width="2.8" />
<line x1="1159.6" y1="644.4" x2="1159.6" y2="730.0" stroke="#1a1a1a" stroke-width="1.3" />
<polyline points="1159.6,730.0 1144.0,730.0" fill="none" stroke="#1a1a1a" stroke-width="2.2" stroke-linejoin="miter" />
<path d="M1144,730 A17,17 0 0 0 1159.6,748" fill="none" stroke="#111" stroke-width="1"/>
<line x1="1159.6" y1="748.0" x2="1159.6" y2="981.0" stroke="#1a1a1a" stroke-width="1.3" />
<line x1="1159.6" y1="776.5" x2="1299.7" y2="776.5" stroke="#1a1a1a" stroke-width="1.3" />
<rect x="1197.5" y="771.8" width="72.0" height="10.6" fill="#fff" stroke="#1a1a1a" stroke-width="1.1" />
<line x1="1269.5" y1="776.5" x2="1280.0" y2="776.5" stroke="#1a1a1a" stroke-width="2.4" />
<path d="M1280,776.5 A19,19 0 0 0 1299.7,794" fill="none" stroke="#111" stroke-width="1"/>
<polyline points="1299.7,794.0 1299.7,777.0 1315.4,777.0" fill="none" stroke="#1a1a1a" stroke-width="2.6" stroke-linejoin="miter" />
<polyline points="1159.6,845.0 1177.0,845.0" fill="none" stroke="#1a1a1a" stroke-width="2.6" stroke-linejoin="miter" />
<polyline points="1197.0,845.0 1315.4,845.0" fill="none" stroke="#1a1a1a" stroke-width="2.6" stroke-linejoin="miter" />
<line x1="1211.8" y1="845.0" x2="1211.8" y2="981.0" stroke="#1a1a1a" stroke-width="1.2" />
<line x1="1265.5" y1="845.0" x2="1265.5" y2="981.0" stroke="#1a1a1a" stroke-width="1.2" />
<line x1="1159.6" y1="912.4" x2="1265.5" y2="912.4" stroke="#1a1a1a" stroke-width="1.2" />
<line x1="1265.5" y1="874.8" x2="1300.0" y2="874.8" stroke="#1a1a1a" stroke-width="1.2" />
<line x1="1265.5" y1="902.4" x2="1315.4" y2="902.4" stroke="#1a1a1a" stroke-width="1.2" />
<line x1="1265.5" y1="938.0" x2="1315.4" y2="938.0" stroke="#1a1a1a" stroke-width="1.2" />
<line x1="1159.6" y1="981.0" x2="1177.0" y2="981.0" stroke="#1a1a1a" stroke-width="3" />
<line x1="1197.0" y1="981.0" x2="1265.5" y2="981.0" stroke="#1a1a1a" stroke-width="3" />
<line x1="1265.5" y1="981.0" x2="1315.4" y2="981.0" stroke="#1a1a1a" stroke-width="1.2" />
<line x1="1159.6" y1="912.4" x2="1159.6" y2="981.0" stroke="#1a1a1a" stroke-width="3" />
<line x1="1177.0" y1="845.0" x2="1177.0" y2="861.0" stroke="#1a1a1a" stroke-width="2" />
<line x1="1177.0" y1="894.0" x2="1177.0" y2="912.4" stroke="#1a1a1a" stroke-width="2" />
<line x1="1177.0" y1="962.0" x2="1177.0" y2="981.0" stroke="#1a1a1a" stroke-width="2" />
<path d="M1177,861 A20,20 0 0 0 1197,845" fill="none" stroke="#111" stroke-width="1"/>
<path d="M1177,894 A19,19 0 0 1 1197,912.4" fill="none" stroke="#111" stroke-width="1"/>
<path d="M1177,962 A19,19 0 0 1 1197,981" fill="none" stroke="#111" stroke-width="1"/>
<path d="M1247,854 A19,19 0 0 0 1265.5,871" fill="none" stroke="#111" stroke-width="1"/>
<path d="M1247,942 A19,19 0 0 0 1265.5,959.5" fill="none" stroke="#111" stroke-width="1"/>
<path d="M1280,874.8 A14,14 0 0 0 1297,887" fill="none" stroke="#111" stroke-width="1"/>
<path d="M1315.4,854 A18,18 0 0 0 1298,872" fill="none" stroke="#111" stroke-width="1"/>
<path d="M1315.4,916.7 A18,18 0 0 0 1298,935" fill="none" stroke="#111" stroke-width="1"/>
<path d="M1315.4,959.5 A18,18 0 0 1 1298,941" fill="none" stroke="#111" stroke-width="1"/>
<polyline points="1247.0,854.0 1265.5,854.0" fill="none" stroke="#1a1a1a" stroke-width="2" stroke-linejoin="miter" />
<polyline points="1247.0,942.0 1265.5,942.0" fill="none" stroke="#1a1a1a" stroke-width="2" stroke-linejoin="miter" />
<polyline points="1298.0,872.0 1315.4,872.0" fill="none" stroke="#1a1a1a" stroke-width="2" stroke-linejoin="miter" />
<polyline points="1298.0,935.0 1315.4,935.0" fill="none" stroke="#1a1a1a" stroke-width="2" stroke-linejoin="miter" />
<polyline points="1298.0,941.0 1315.4,941.0" fill="none" stroke="#1a1a1a" stroke-width="2" stroke-linejoin="miter" />
<line x1="1315.4" y1="776.0" x2="1315.4" y2="981.0" stroke="#1a1a1a" stroke-width="1.8" />
<line x1="1393.0" y1="843.5" x2="1393.0" y2="981.0" stroke="#3d5866" stroke-width="1.4" />
<rect x="1386.5" y="906.0" width="7.0" height="7.0" fill="#3d5a80" stroke="none" stroke-width="1" />
<rect x="1386.5" y="974.0" width="7.0" height="7.0" fill="#3d5a80" stroke="none" stroke-width="1" />
<line x1="1325.5" y1="981.0" x2="1325.5" y2="1005.0" stroke="#1a1a1a" stroke-width="1.2" />
<line x1="1381.0" y1="981.0" x2="1381.0" y2="1005.0" stroke="#1a1a1a" stroke-width="1.2" />
<path d="M1335,1005 A22,22 0 0 0 1353,985 A22,22 0 0 0 1371,1005" fill="none" stroke="#111" stroke-width="1"/>
<polygon points="1345.0,1005.0 1353.0,997.0 1361.0,1005.0" fill="#000" fill-opacity="1.0" />
<path d="M1316.8,718.5 A21,21 0 0 1 1334,740 A21,21 0 0 1 1316.8,758.5 M1366.7,718.5 A21,21 0 0 0 1350,740 A21,21 0 0 0 1366.7,758.5" fill="none" stroke="#3d5866" stroke-width="1"/>
<polyline points="1316.8,718.5 1334.0,718.5" fill="none" stroke="#3d5866" stroke-width="1.4" stroke-linejoin="miter" />
<polyline points="1350.0,718.5 1366.7,718.5" fill="none" stroke="#3d5866" stroke-width="1.4" stroke-linejoin="miter" />
<polyline points="1316.8,758.5 1334.0,758.5" fill="none" stroke="#3d5866" stroke-width="1.4" stroke-linejoin="miter" />
<polyline points="1350.0,758.5 1366.7,758.5" fill="none" stroke="#3d5866" stroke-width="1.4" stroke-linejoin="miter" />
<line x1="1316.8" y1="701.0" x2="1316.8" y2="776.0" stroke="#3d5866" stroke-width="1.3" />
<line x1="1366.7" y1="701.0" x2="1366.7" y2="776.0" stroke="#3d5866" stroke-width="1.3" />
<path d="M1324,795.5 A19,19 0 0 0 1343,776 A19,19 0 0 0 1362.4,795.5 M1324,776 L1324,795.5 M1362.4,776 L1362.4,795.5" fill="none" stroke="#3d5866" stroke-width="1.1"/>
<path d="M1388,777 L1388,791 L1371,791 A18,18 0 0 0 1388,809 M1371,830 A18,18 0 0 1 1388,812 M1371,830 L1388,830 L1388,845" fill="none" stroke="#3d5866" stroke-width="1.1"/>
<line x1="1383.0" y1="845.0" x2="1393.0" y2="845.0" stroke="#3d5866" stroke-width="2.4" />
<path d="M1401,843.5 L1401,862 A17,17 0 0 0 1418,845" fill="none" stroke="#111" stroke-width="1.1"/>
<polygon points="1118.0,725.0 1134.0,739.5 1118.0,754.0" fill="#000" fill-opacity="1.0" />
<text x="1105.0" y="745.5" font-family="Liberation Sans" font-size="16" font-weight="normal" text-anchor="middle" fill="#222" textLength="19" lengthAdjust="spacingAndGlyphs" >NA</text>
<polygon points="1169.4,1013.0 1184.0,997.0 1198.8,1013.0" fill="#000" fill-opacity="1.0" />
<polygon points="1400.8,903.0 1416.0,886.7 1431.4,903.0" fill="#000" fill-opacity="1.0" />
<polygon points="1230.0,249.0 1252.0,257.0 1240.0,270.0" fill="#000" fill-opacity="1.0" />
<polygon points="1048.7,655.6 1063.0,639.4 1078.6,655.6" fill="#000" fill-opacity="1.0" />
<text x="1064.7" y="671.5" font-family="Liberation Sans" font-size="16" font-weight="normal" text-anchor="middle" fill="#222" textLength="19" lengthAdjust="spacingAndGlyphs" >NA</text>
<polygon points="1034.0,675.0 1058.0,682.0 1040.0,697.0" fill="#000" fill-opacity="1.0" />
<text x="1055.3" y="702.0" font-family="Liberation Sans" font-size="16" font-weight="normal" text-anchor="middle" fill="#222" textLength="19" lengthAdjust="spacingAndGlyphs" >NA</text>
<text x="1195.0" y="318.5" font-family="Liberation Sans" font-size="16" font-weight="normal" text-anchor="middle" fill="#222" textLength="19" lengthAdjust="spacingAndGlyphs" >NA</text>
<text x="591.0" y="229.6" font-family="Liberation Sans" font-size="16.5" font-weight="normal" text-anchor="middle" fill="#2a2a2a" textLength="20" lengthAdjust="spacingAndGlyphs" >614</text>
<text x="591.0" y="244.3" font-family="Liberation Sans" font-size="16.5" font-weight="normal" text-anchor="middle" fill="#2a2a2a" textLength="69" lengthAdjust="spacingAndGlyphs" >Musikschule</text>
<text x="478.3" y="341.9" font-family="Liberation Sans" font-size="16.5" font-weight="normal" text-anchor="middle" fill="#2a2a2a" textLength="20" lengthAdjust="spacingAndGlyphs" >613</text>
<text x="476.0" y="357.9" font-family="Liberation Sans" font-size="16.5" font-weight="normal" text-anchor="middle" fill="#2a2a2a" textLength="38" lengthAdjust="spacingAndGlyphs" >Klasse</text>
<text x="363.4" y="458.9" font-family="Liberation Sans" font-size="16.5" font-weight="normal" text-anchor="middle" fill="#2a2a2a" textLength="20" lengthAdjust="spacingAndGlyphs" >612</text>
<text x="364.2" y="475.5" font-family="Liberation Sans" font-size="16.5" font-weight="normal" text-anchor="middle" fill="#2a2a2a" textLength="38" lengthAdjust="spacingAndGlyphs" >Klasse</text>
<text x="251.0" y="565.3" font-family="Liberation Sans" font-size="16.5" font-weight="normal" text-anchor="middle" fill="#2a2a2a" textLength="20" lengthAdjust="spacingAndGlyphs" >611</text>
<text x="249.7" y="583.2" font-family="Liberation Sans" font-size="16.5" font-weight="normal" text-anchor="middle" fill="#2a2a2a" textLength="38" lengthAdjust="spacingAndGlyphs" >Klasse</text>
<text x="0" y="5.8" font-family="Liberation Sans" font-size="16" text-anchor="middle" fill="#2a2a2a" textLength="68" lengthAdjust="spacingAndGlyphs" transform="translate(192.8 517.2) rotate(-45)">Notausstieg</text>
<text x="0" y="5.8" font-family="Liberation Sans" font-size="16" text-anchor="middle" fill="#2a2a2a" textLength="68" lengthAdjust="spacingAndGlyphs" transform="translate(307.2 403.5) rotate(-45)">Notausstieg</text>
<text x="0" y="5.8" font-family="Liberation Sans" font-size="16" text-anchor="middle" fill="#2a2a2a" textLength="68" lengthAdjust="spacingAndGlyphs" transform="translate(420.7 289.5) rotate(-45)">Notausstieg</text>
<text x="0" y="5.8" font-family="Liberation Sans" font-size="16" text-anchor="middle" fill="#2a2a2a" textLength="68" lengthAdjust="spacingAndGlyphs" transform="translate(533.0 175.4) rotate(-45)">Notausstieg</text>
<text x="0" y="5.8" font-family="Liberation Sans" font-size="16" text-anchor="middle" fill="#2a2a2a" textLength="68" lengthAdjust="spacingAndGlyphs" transform="translate(1383.9 300.2) rotate(45)">Notausstieg</text>
<text x="0" y="5.8" font-family="Liberation Sans" font-size="16" text-anchor="middle" fill="#2a2a2a" textLength="68" lengthAdjust="spacingAndGlyphs" transform="translate(1479.7 396.0) rotate(45)">Notausstieg</text>
<text x="0" y="5.8" font-family="Liberation Sans" font-size="16" text-anchor="middle" fill="#2a2a2a" textLength="66" lengthAdjust="spacingAndGlyphs" transform="translate(1555.0 578.7) rotate(-90)">Notausstieg</text>
<text x="527.5" y="697.2" font-family="Liberation Sans" font-size="16" font-weight="normal" text-anchor="middle" fill="#2a2a2a" textLength="66" lengthAdjust="spacingAndGlyphs" >Notausstieg</text>
<text x="633.6" y="699.9" font-family="Liberation Sans" font-size="16" font-weight="normal" text-anchor="middle" fill="#2a2a2a" textLength="66" lengthAdjust="spacingAndGlyphs" >Notausstieg</text>
<text x="765.5" y="701.2" font-family="Liberation Sans" font-size="16" font-weight="normal" text-anchor="middle" fill="#2a2a2a" textLength="66" lengthAdjust="spacingAndGlyphs" >Notausstieg</text>
<text x="0" y="5.8" font-family="Liberation Sans" font-size="16.5" text-anchor="middle" fill="#2a2a2a" textLength="20" lengthAdjust="spacingAndGlyphs" transform="translate(511.4 611.0) rotate(-90)">620</text>
<text x="0" y="5.8" font-family="Liberation Sans" font-size="16.5" text-anchor="middle" fill="#2a2a2a" textLength="64" lengthAdjust="spacingAndGlyphs" transform="translate(526.5 611.0) rotate(-90)">Hausmeister</text>
<text x="0" y="5.8" font-family="Liberation Sans" font-size="16.5" text-anchor="middle" fill="#2a2a2a" textLength="31" lengthAdjust="spacingAndGlyphs" transform="translate(542.2 613.8) rotate(-90)">Lager</text>
<text x="621.0" y="607.7" font-family="Liberation Sans" font-size="16.5" font-weight="normal" text-anchor="middle" fill="#2a2a2a" textLength="20" lengthAdjust="spacingAndGlyphs" >621</text>
<text x="623.0" y="623.7" font-family="Liberation Sans" font-size="16.5" font-weight="normal" text-anchor="middle" fill="#2a2a2a" textLength="88" lengthAdjust="spacingAndGlyphs" >Garderobe Aula</text>
<text x="756.6" y="608.9" font-family="Liberation Sans" font-size="16.5" font-weight="normal" text-anchor="middle" fill="#2a2a2a" textLength="20" lengthAdjust="spacingAndGlyphs" >622</text>
<text x="757.4" y="624.9" font-family="Liberation Sans" font-size="16.5" font-weight="normal" text-anchor="middle" fill="#2a2a2a" textLength="61" lengthAdjust="spacingAndGlyphs" >Sammlung</text>
<text x="758.8" y="641.1" font-family="Liberation Sans" font-size="16.5" font-weight="normal" text-anchor="middle" fill="#2a2a2a" textLength="45" lengthAdjust="spacingAndGlyphs" >Religion</text>
<text x="909.6" y="611.7" font-family="Liberation Sans" font-size="16.5" font-weight="normal" text-anchor="middle" fill="#2a2a2a" textLength="21" lengthAdjust="spacingAndGlyphs" >629</text>
<text x="917.6" y="627.2" font-family="Liberation Sans" font-size="16.5" font-weight="normal" text-anchor="middle" fill="#2a2a2a" textLength="129" lengthAdjust="spacingAndGlyphs" >Aula / Fachraum Musik</text>
<text x="877.3" y="285.3" font-family="Liberation Sans" font-size="16.5" font-weight="normal" text-anchor="middle" fill="#2a2a2a" textLength="20" lengthAdjust="spacingAndGlyphs" >622</text>
<text x="882.7" y="303.1" font-family="Liberation Sans" font-size="16.5" font-weight="normal" text-anchor="middle" fill="#2a2a2a" textLength="72" lengthAdjust="spacingAndGlyphs" >Aula / Bühne</text>
<text x="1018.6" y="396.7" font-family="Liberation Sans" font-size="16.5" font-weight="normal" text-anchor="middle" fill="#2a2a2a" textLength="20" lengthAdjust="spacingAndGlyphs" >628</text>
<text x="1019.5" y="413.6" font-family="Liberation Sans" font-size="16.5" font-weight="normal" text-anchor="middle" fill="#2a2a2a" textLength="89" lengthAdjust="spacingAndGlyphs" >Aula / Festraum</text>
<text x="934.0" y="507.9" font-family="Liberation Sans" font-size="16.5" font-weight="normal" text-anchor="middle" fill="#2a2a2a" textLength="52" lengthAdjust="spacingAndGlyphs" >Faltwand</text>
<text x="1322.8" y="352.9" font-family="Liberation Sans" font-size="16.5" font-weight="normal" text-anchor="middle" fill="#2a2a2a" textLength="20" lengthAdjust="spacingAndGlyphs" >683</text>
<text x="1325.0" y="369.4" font-family="Liberation Sans" font-size="16.5" font-weight="normal" text-anchor="middle" fill="#2a2a2a" textLength="53" lengthAdjust="spacingAndGlyphs" >Fachraum</text>
<text x="1327.0" y="384.9" font-family="Liberation Sans" font-size="16.5" font-weight="normal" text-anchor="middle" fill="#2a2a2a" textLength="85" lengthAdjust="spacingAndGlyphs" >Bildende Kunst</text>
<text x="1444.0" y="448.7" font-family="Liberation Sans" font-size="16.5" font-weight="normal" text-anchor="middle" fill="#2a2a2a" textLength="20" lengthAdjust="spacingAndGlyphs" >682</text>
<text x="1447.6" y="465.2" font-family="Liberation Sans" font-size="16.5" font-weight="normal" text-anchor="middle" fill="#2a2a2a" textLength="60" lengthAdjust="spacingAndGlyphs" >Sammlung</text>
<text x="1448.5" y="481.2" font-family="Liberation Sans" font-size="16.5" font-weight="normal" text-anchor="middle" fill="#2a2a2a" textLength="85" lengthAdjust="spacingAndGlyphs" >Bildende Kunst</text>
<text x="1241.7" y="626.9" font-family="Liberation Sans" font-size="16.5" font-weight="normal" text-anchor="middle" fill="#2a2a2a" textLength="20" lengthAdjust="spacingAndGlyphs" >680</text>
<text x="1240.4" y="644.9" font-family="Liberation Sans" font-size="16.5" font-weight="normal" text-anchor="middle" fill="#2a2a2a" textLength="50" lengthAdjust="spacingAndGlyphs" >Cafeteria</text>
<text x="1458.7" y="644.9" font-family="Liberation Sans" font-size="16.5" font-weight="normal" text-anchor="middle" fill="#2a2a2a" textLength="20" lengthAdjust="spacingAndGlyphs" >681</text>
<text x="1458.7" y="661.7" font-family="Liberation Sans" font-size="16.5" font-weight="normal" text-anchor="middle" fill="#2a2a2a" textLength="50" lengthAdjust="spacingAndGlyphs" >Cafeteria</text>
<text x="1460.0" y="678.2" font-family="Liberation Sans" font-size="16.5" font-weight="normal" text-anchor="middle" fill="#2a2a2a" textLength="58" lengthAdjust="spacingAndGlyphs" >Nebenraum</text>
<text x="1242.0" y="806.3" font-family="Liberation Sans" font-size="16.5" font-weight="normal" text-anchor="middle" fill="#2a2a2a" textLength="20" lengthAdjust="spacingAndGlyphs" >679</text>
<text x="1240.8" y="823.5" font-family="Liberation Sans" font-size="16.5" font-weight="normal" text-anchor="middle" fill="#2a2a2a" textLength="90" lengthAdjust="spacingAndGlyphs" >Cafeteria Küche</text>
<text x="1102.7" y="866.7" font-family="Liberation Sans" font-size="16.5" font-weight="normal" text-anchor="middle" fill="#2a2a2a" textLength="20" lengthAdjust="spacingAndGlyphs" >678</text>
<text x="1102.7" y="883.5" font-family="Liberation Sans" font-size="16.5" font-weight="normal" text-anchor="middle" fill="#2a2a2a" textLength="51" lengthAdjust="spacingAndGlyphs" >Cafeteria</text>
<text x="1102.7" y="899.2" font-family="Liberation Sans" font-size="16.5" font-weight="normal" text-anchor="middle" fill="#2a2a2a" textLength="72" lengthAdjust="spacingAndGlyphs" >Vorbereitung</text>
<line x1="1133.0" y1="870.0" x2="1184.0" y2="876.0" stroke="#1a1a1a" stroke-width="1.1" />
<circle cx="1184" cy="876" r="2.5" fill="#333"/>
<text x="1238.0" y="887.9" font-family="Liberation Sans" font-size="16.5" font-weight="normal" text-anchor="middle" fill="#2a2a2a" textLength="21" lengthAdjust="spacingAndGlyphs" >WC</text>
<text x="1285.0" y="901.2" font-family="Liberation Sans" font-size="16.5" font-weight="normal" text-anchor="middle" fill="#2a2a2a" textLength="18" lengthAdjust="spacingAndGlyphs" >PU</text>
<text x="1285.0" y="928.6" font-family="Liberation Sans" font-size="16.5" font-weight="normal" text-anchor="middle" fill="#2a2a2a" textLength="21" lengthAdjust="spacingAndGlyphs" >WC</text>
<text x="1232.0" y="956.1" font-family="Liberation Sans" font-size="16.5" font-weight="normal" text-anchor="middle" fill="#2a2a2a" textLength="21" lengthAdjust="spacingAndGlyphs" >WC</text>
<text x="1185.9" y="926.7" font-family="Liberation Sans" font-size="16.5" font-weight="normal" text-anchor="middle" fill="#2a2a2a" textLength="20" lengthAdjust="spacingAndGlyphs" >677</text>
<text x="1185.9" y="943.5" font-family="Liberation Sans" font-size="16.5" font-weight="normal" text-anchor="middle" fill="#2a2a2a" textLength="50" lengthAdjust="spacingAndGlyphs" >Cafeteria</text>
<text x="1185.9" y="958.1" font-family="Liberation Sans" font-size="16.5" font-weight="normal" text-anchor="middle" fill="#2a2a2a" textLength="32" lengthAdjust="spacingAndGlyphs" >Lager</text>
<text x="1387.0" y="823.9" font-family="Liberation Sans" font-size="15" font-weight="normal" text-anchor="middle" fill="#2a2a2a" textLength="13" lengthAdjust="spacingAndGlyphs" >rd</text>
<text x="840.0" y="488.9" font-family="Liberation Sans" font-size="15" font-weight="normal" text-anchor="middle" fill="#2a2a2a" textLength="13" lengthAdjust="spacingAndGlyphs" >rd</text>
<text x="0" y="5.8" font-family="Liberation Sans" font-size="15" text-anchor="middle" fill="#2a2a2a" textLength="13" lengthAdjust="spacingAndGlyphs" transform="translate(1262.0 512.0) rotate(-40)">rd</text>
<line x1="444.0" y1="548.8" x2="444.0" y2="609.0" stroke="#9a5a90" stroke-width="2" />
<line x1="444.0" y1="609.0" x2="444.0" y2="635.4" stroke="#d9141e" stroke-width="2" />
<rect x="415.0" y="472.6" width="103.0" height="76.2" fill="#ffffff" stroke="#222" stroke-width="1.5" fill-opacity="0.9"/>
<text x="462.5" y="534.0" font-family="Liberation Serif" font-size="55" font-weight="bold" text-anchor="middle" fill="#f01018" textLength="61" lengthAdjust="spacingAndGlyphs" >AI</text>
<rect x="415.7" y="473.3" width="101.6" height="74.8" fill="#5b9bd5" stroke="none" stroke-width="1" fill-opacity="0.48"/>
<polygon points="484.0,490.0 518.0,490.0 518.0,515.0 484.0,549.0" fill="#5b9bd5" fill-opacity="0.3" />
<rect x="421.7" y="635.4" width="45.7" height="44.9" fill="#fff" stroke="#d0121c" stroke-width="2.6" />
<rect x="429.0" y="640.0" width="32.0" height="17.0" fill="none" stroke="#111" stroke-width="1.3" />
<path d="M432,653 L440,653 L447,645 L452,653 L458,653" fill="none" stroke="#111" stroke-width="1.4"/>
<text x="444.5" y="676.0" font-family="Liberation Sans" font-size="12" font-weight="normal" text-anchor="middle" fill="#222" textLength="40" lengthAdjust="spacingAndGlyphs" >T30-RS</text>
<rect x="251.6" y="787.2" width="89.1" height="76.7" fill="#fff" stroke="#222" stroke-width="1.4" />
<text x="292.8" y="849.6" font-family="Liberation Serif" font-size="57" font-weight="bold" text-anchor="middle" fill="#f00a0a" textLength="47" lengthAdjust="spacingAndGlyphs" >I0</text>
<rect x="1249.8" y="1005.0" width="118.8" height="76.6" fill="#fff" stroke="#222" stroke-width="1.4" />
<text x="1301.3" y="1066.0" font-family="Liberation Serif" font-size="57" font-weight="bold" text-anchor="middle" fill="#f00a0a" textLength="69" lengthAdjust="spacingAndGlyphs" >II0</text>
<rect x="1293.9" y="624.6" width="131.4" height="76.7" fill="#fff" stroke="#222" stroke-width="1.4" />
<text x="1353.5" y="687.0" font-family="Liberation Serif" font-size="55" font-weight="bold" text-anchor="middle" fill="#f00a0a" textLength="81" lengthAdjust="spacingAndGlyphs" >AII</text>
<rect x="1316.5" y="625.3" width="49.4" height="75.3" fill="#5b9bd5" stroke="none" stroke-width="1" fill-opacity="0.48"/>
<polyline points="1417.6,762.7 1417.6,801.0 1382.0,801.0" fill="none" stroke="#d9141e" stroke-width="2.2" stroke-linejoin="miter" />
<circle cx="1382" cy="801" r="3" fill="#c03050"/>
<rect x="1395.0" y="718.8" width="45.0" height="43.9" fill="#fff" stroke="#d0121c" stroke-width="2.6" />
<rect x="1402.0" y="723.0" width="31.0" height="16.0" fill="none" stroke="#111" stroke-width="1.3" />
<path d="M1405,735 L1412,735 L1419,727 L1423,735 L1430,735" fill="none" stroke="#111" stroke-width="1.4"/>
<text x="1417.5" y="757.0" font-family="Liberation Sans" font-size="12" font-weight="normal" text-anchor="middle" fill="#222" textLength="26" lengthAdjust="spacingAndGlyphs" >T 30</text>
<polyline points="1593.0,755.0 1593.0,798.0 1498.8,798.0" fill="none" stroke="#d9141e" stroke-width="2.2" stroke-linejoin="miter" />
<circle cx="1498.8" cy="798" r="3" fill="#c03050"/>
<rect x="1567.5" y="711.0" width="44.3" height="44.3" fill="#fff" stroke="#d0121c" stroke-width="2.6" />
<rect x="1572.0" y="715.0" width="35.0" height="35.0" fill="none" stroke="#222" stroke-width="1.1" stroke-dasharray="3.5,2"/>
<polyline points="1577.0,746.0 1577.0,738.0 1590.0,738.0 1590.0,729.0 1602.0,729.0 1602.0,720.0" fill="none" stroke="#222" stroke-width="1.1" stroke-linejoin="miter" />
<text x="1583.0" y="729.0" font-family="Liberation Sans" font-size="13" font-weight="normal" text-anchor="middle" fill="#222" textLength="14" lengthAdjust="spacingAndGlyphs" >E4</text>
<text x="1598.0" y="749.0" font-family="Liberation Sans" font-size="13" font-weight="normal" text-anchor="middle" fill="#222" textLength="14" lengthAdjust="spacingAndGlyphs" >E1</text>
<polyline points="1464.0,875.7 1425.0,875.7 1425.0,840.4" fill="none" stroke="#d9141e" stroke-width="2.2" stroke-linejoin="miter" />
<circle cx="1425" cy="840.4" r="3" fill="#c03050"/>
<rect x="1464.3" y="854.0" width="44.3" height="43.3" fill="#fff" stroke="#d0121c" stroke-width="2.6" />
<circle cx="1486.5" cy="875.7" r="14" fill="none" stroke="#222" stroke-width="1.3"/>
<path d="M1476,881 L1480,881 L1480,876 M1497,881 L1493,881 L1493,876 M1486.5,882 L1486.5,874 L1482,869 M1486.5,874 L1491,869" fill="none" stroke="#222" stroke-width="1.4"/>
<polyline points="1571.0,756.0 1571.0,776.5 1591.0,776.5" fill="none" stroke="#1a1a1a" stroke-width="1.2" stroke-linejoin="miter" />
<line x1="1575.0" y1="757.0" x2="1575.0" y2="776.0" stroke="#1a1a1a" stroke-width="1.2" />
<line x1="1580.0" y1="757.0" x2="1580.0" y2="776.0" stroke="#1a1a1a" stroke-width="1.2" />
<line x1="1585.0" y1="757.0" x2="1585.0" y2="776.0" stroke="#1a1a1a" stroke-width="1.2" />
<line x1="1589.0" y1="757.0" x2="1589.0" y2="776.0" stroke="#1a1a1a" stroke-width="1.2" />
<line x1="1572.0" y1="758.0" x2="1586.0" y2="774.0" stroke="#1a1a1a" stroke-width="0.8" />
</svg></body></html>
